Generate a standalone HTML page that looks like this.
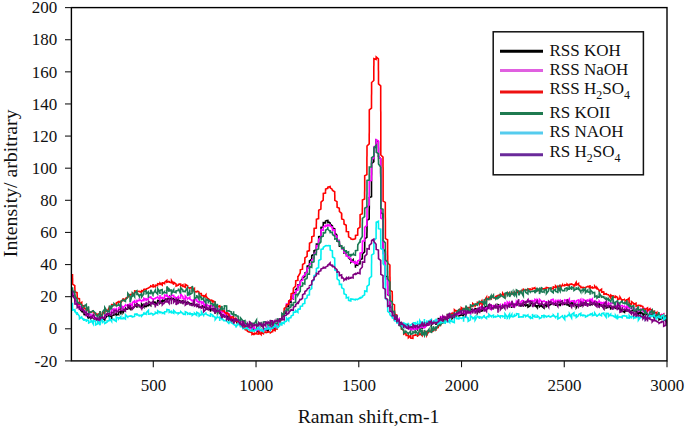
<!DOCTYPE html>
<html><head><meta charset="utf-8"><style>
html,body{margin:0;padding:0;background:#fff;width:685px;height:427px;overflow:hidden}
svg{display:block}
</style></head><body>
<svg width="685" height="427" viewBox="0 0 685 427">
<rect width="685" height="427" fill="#fff"/>
<defs><clipPath id="pc"><rect x="71.1" y="7.6" width="595.9" height="353.29999999999995"/></clipPath></defs>
<g clip-path="url(#pc)"><path d="M72.5 290.0L72.5 292.9L72.5 293.0L72.6 293.4L72.6 296.1L74.8 295.7L74.8 298.2L74.8 297.4L74.9 299.5L74.9 299.6L74.9 300.8L77.1 301.8L77.1 302.0L77.2 304.6L77.2 303.6L79.4 304.5L79.4 307.4L79.4 308.0L79.5 308.4L79.5 308.6L81.7 311.3L81.7 308.2L81.8 309.3L81.8 309.7L84.0 312.8L84.0 312.9L84.1 314.5L86.3 315.0L86.3 314.0L86.3 313.7L86.4 314.3L88.6 318.6L88.6 317.5L88.7 317.7L88.7 317.2L90.9 317.8L91.0 318.1L91.0 318.3L93.2 315.9L93.3 318.9L93.3 318.6L95.5 319.5L95.6 319.5L97.8 320.4L97.8 319.4L97.9 320.5L100.1 316.1L100.2 318.0L100.2 321.7L102.4 317.9L102.5 318.8L104.7 319.7L104.7 317.4L104.8 319.1L107.0 316.1L107.0 315.2L107.0 315.7L107.1 314.9L109.3 316.7L109.4 316.0L111.6 316.6L111.6 314.7L111.7 319.1L111.7 315.5L113.9 315.3L114.0 315.7L114.0 314.6L116.2 313.9L116.3 314.5L116.3 315.1L118.5 314.3L118.6 314.4L118.6 312.2L120.8 311.5L120.9 314.5L120.9 311.4L123.1 312.0L123.2 312.0L123.2 312.4L125.4 308.6L125.5 309.3L127.7 309.0L127.7 309.0L127.8 306.1L130.0 308.8L130.0 305.0L130.1 308.8L132.3 308.8L132.3 308.8L132.4 306.3L132.4 308.9L134.6 306.3L134.7 305.7L134.7 305.9L136.9 305.9L136.9 307.1L137.0 307.7L137.0 303.9L139.2 305.7L139.3 307.4L139.3 306.4L141.5 306.6L141.6 303.9L143.8 306.8L143.8 303.5L143.9 305.5L146.1 306.9L146.2 307.3L146.2 305.5L148.4 305.7L148.5 303.7L148.5 303.7L150.7 305.6L150.7 304.0L150.8 303.6L153.0 301.8L153.0 303.6L153.1 304.0L153.1 302.0L155.3 302.2L155.4 304.6L157.6 302.6L157.6 301.8L157.7 300.5L159.9 300.9L159.9 301.2L160.0 303.1L162.2 300.4L162.2 303.3L162.3 299.7L162.3 300.2L164.5 301.5L164.5 299.8L164.6 298.8L166.8 299.4L166.9 299.9L169.1 297.0L169.1 298.7L169.2 298.9L171.4 298.5L171.5 300.0L171.5 298.4L173.7 298.8L173.8 299.4L173.8 300.4L176.0 299.3L176.1 301.7L176.1 298.8L178.3 301.8L178.4 299.2L178.4 300.2L180.6 301.2L180.7 303.5L180.7 302.1L182.9 300.7L183.0 303.0L185.2 301.3L185.2 300.7L185.3 302.5L185.3 302.2L187.5 303.6L187.6 301.9L189.8 303.4L189.8 303.9L189.9 303.8L192.1 303.6L192.1 303.0L192.2 305.2L194.4 304.5L194.4 305.2L194.5 304.4L196.7 305.2L196.8 304.1L196.8 305.7L199.0 306.8L199.0 306.2L199.1 307.4L201.3 306.9L201.3 308.4L201.4 306.8L203.6 305.2L203.6 308.1L203.7 307.6L205.9 306.7L205.9 309.1L206.0 308.7L206.0 309.1L208.2 308.5L208.3 309.3L210.5 309.7L210.5 311.8L210.6 309.0L212.8 310.1L212.9 310.7L212.9 308.4L215.1 308.7L215.1 313.7L215.2 309.0L217.4 312.2L217.4 310.6L217.5 310.9L217.5 309.8L219.7 311.4L219.8 313.9L219.8 311.6L222.0 314.5L222.1 314.6L222.1 317.1L224.3 314.4L224.4 317.0L224.4 316.8L226.6 315.6L226.6 314.5L226.7 318.7L228.9 315.7L228.9 317.2L229.0 319.2L229.0 319.8L231.2 317.7L231.3 319.1L231.3 319.3L233.5 321.3L233.5 323.4L233.6 318.5L233.6 322.2L235.8 317.9L235.9 321.8L235.9 320.7L238.1 324.8L238.1 322.8L238.1 321.9L238.2 322.5L238.2 322.7L240.4 324.0L240.5 324.0L242.7 325.5L242.8 327.0L242.8 326.4L245.0 324.4L245.1 324.3L245.1 325.6L247.3 328.0L247.3 326.6L247.4 326.3L247.4 327.6L249.6 325.9L249.6 326.5L249.7 328.7L249.7 327.9L251.9 328.0L252.0 329.2L254.2 328.4L254.2 328.4L254.3 328.9L254.3 330.4L256.5 329.9L256.6 328.4L256.6 329.6L256.6 330.8L258.8 332.4L258.9 328.5L258.9 330.4L261.1 329.6L261.2 330.9L261.2 330.4L263.4 331.7L263.5 330.4L263.5 329.0L265.7 328.9L265.8 330.0L268.0 329.8L268.0 332.3L268.1 331.2L268.1 327.4L270.3 329.0L270.4 326.7L270.4 326.1L272.6 328.7L272.7 328.1L272.7 325.9L274.9 329.0L274.9 325.4L275.0 324.9L275.0 326.6L277.2 325.6L277.2 324.8L277.3 324.2L279.5 323.8L279.5 322.5L279.6 321.6L281.8 318.8L281.8 318.8L281.8 320.3L281.8 318.3L281.9 318.3L281.9 317.8L284.1 314.8L284.1 314.6L284.2 315.2L284.2 313.2L284.2 313.7L286.4 312.6L286.4 310.8L286.5 308.9L286.5 307.2L286.5 306.0L288.7 306.6L288.7 305.3L288.8 303.7L288.8 303.5L288.8 301.4L291.0 302.3L291.0 300.2L291.1 299.1L291.1 298.4L291.1 297.5L293.3 298.9L293.3 293.6L293.4 294.5L293.4 295.1L293.4 293.9L295.6 292.2L295.6 293.7L295.7 289.5L295.7 288.7L295.7 289.9L297.9 287.2L297.9 285.2L297.9 288.1L298.0 287.4L298.0 286.8L298.0 284.8L300.2 284.5L300.2 282.2L300.3 283.6L300.3 282.3L300.3 281.2L302.5 278.6L302.5 279.6L302.6 278.9L302.6 277.6L304.8 276.7L304.8 275.2L304.9 274.3L304.9 274.1L304.9 273.0L307.1 271.9L307.1 270.6L307.1 270.5L307.2 268.1L307.2 267.4L307.2 266.2L309.4 265.5L309.4 264.6L309.5 263.5L309.5 262.4L309.5 260.2L309.5 261.1L311.7 259.0L311.7 257.7L311.7 257.1L311.8 255.6L311.8 255.5L314.0 254.2L314.0 252.7L314.1 250.1L314.1 250.5L316.3 250.1L316.3 249.1L316.3 247.7L316.4 246.8L316.4 246.1L316.4 244.0L318.6 244.1L318.6 241.3L318.6 240.4L318.7 239.5L318.7 237.8L318.7 236.7L320.9 236.2L320.9 234.5L320.9 232.7L320.9 231.7L321.0 229.4L321.0 227.5L323.2 227.1L323.2 225.9L323.2 225.5L323.3 223.3L323.3 224.1L323.3 222.7L325.5 222.8L325.5 220.6L325.6 220.8L327.8 220.4L327.8 221.0L327.9 219.9L327.9 222.5L330.1 222.3L330.1 222.2L330.2 223.9L330.2 224.2L332.4 226.0L332.5 227.7L332.5 227.5L332.5 228.0L334.7 228.8L334.7 230.3L334.7 231.3L334.8 231.8L334.8 232.9L337.0 235.2L337.0 236.9L337.0 235.6L337.0 238.0L337.1 238.3L337.1 239.7L337.1 241.2L339.3 241.9L339.3 242.5L339.4 242.8L339.4 243.5L339.4 246.2L341.6 246.1L341.6 246.9L341.7 247.7L341.7 247.9L343.9 249.5L343.9 250.9L344.0 251.5L344.0 250.4L344.0 252.9L346.2 252.3L346.2 252.3L346.3 253.7L346.3 254.7L348.5 256.1L348.5 256.5L348.6 256.7L348.6 258.0L350.8 259.9L350.8 258.7L350.8 260.0L350.9 260.2L350.9 262.2L353.1 259.7L353.2 262.2L353.2 261.4L355.4 263.4L355.4 265.0L355.5 267.7L355.5 265.5L357.7 264.3L357.7 266.1L357.8 264.0L360.0 263.8L360.0 263.1L360.0 262.2L360.1 260.7L360.1 260.3L360.1 259.7L362.3 258.7L362.3 257.0L362.4 255.8L362.4 254.0L362.4 253.8L364.6 251.9L364.6 250.1L364.6 248.2L364.7 246.7L364.7 244.3L364.7 242.5L364.7 240.5L364.7 238.9L366.9 237.3L366.9 235.0L366.9 233.8L367.0 231.0L367.0 230.4L367.0 228.0L367.0 226.9L367.0 224.5L367.0 222.8L367.0 220.9L367.0 220.3L369.2 219.0L369.2 216.9L369.2 215.5L369.2 214.4L369.2 213.0L369.2 212.3L369.2 211.2L369.3 207.9L369.3 206.2L369.3 204.9L369.3 202.7L369.3 199.3L369.3 197.6L371.5 196.8L371.5 194.1L371.5 191.7L371.5 189.9L371.5 188.8L371.5 187.1L371.5 184.9L371.5 184.0L371.5 182.2L371.5 180.9L371.5 178.2L371.5 177.3L371.5 176.1L371.6 174.3L371.6 172.9L371.6 171.3L371.6 169.1L371.6 167.3L371.6 165.6L371.6 163.7L373.8 161.7L373.8 160.7L373.8 158.9L373.8 157.1L373.9 155.0L373.9 154.9L373.9 153.0L373.9 151.3L373.9 149.9L373.9 148.2L376.1 147.1L376.1 145.7L376.1 143.6L376.1 142.2L376.2 140.6L376.2 139.1L376.2 140.4L378.4 141.8L378.4 143.8L378.4 146.5L378.5 148.8L378.5 150.1L378.5 151.7L378.5 154.4L378.5 156.6L380.7 158.9L380.7 161.2L380.7 163.5L380.7 165.1L380.7 166.8L380.7 168.9L380.7 170.6L380.7 172.2L380.8 174.6L380.8 177.1L380.8 178.3L380.8 181.0L380.8 182.8L380.8 185.0L380.8 187.0L380.8 188.6L380.8 189.9L380.8 191.3L380.8 192.7L380.8 193.8L380.8 195.2L380.8 197.6L380.8 199.5L380.8 200.9L380.8 202.8L380.8 204.9L380.8 206.8L380.8 208.1L380.8 210.0L380.8 212.6L383.0 214.0L383.0 215.8L383.0 218.7L383.0 220.0L383.0 221.6L383.0 223.7L383.0 225.5L383.0 227.7L383.0 229.1L383.1 231.0L383.1 233.8L383.1 235.9L383.1 238.5L383.1 240.6L383.1 243.0L383.1 245.2L383.1 247.6L383.1 249.0L385.3 251.4L385.3 252.7L385.3 255.0L385.3 256.2L385.3 258.5L385.3 260.0L385.3 261.1L385.3 263.3L385.4 264.8L385.4 265.8L385.4 267.6L385.4 268.8L385.4 270.3L385.4 272.3L385.4 274.0L385.4 276.2L387.6 276.9L387.6 277.5L387.6 279.7L387.6 280.9L387.6 282.9L387.6 285.2L387.7 286.4L387.7 289.5L387.7 292.1L387.7 293.2L387.7 294.7L389.9 296.2L389.9 296.4L389.9 297.9L389.9 299.8L389.9 301.6L390.0 302.7L390.0 303.5L390.0 305.4L390.0 306.4L390.0 307.2L392.2 307.4L392.2 308.9L392.3 311.1L392.3 310.6L392.3 312.1L394.5 313.0L394.5 314.0L394.5 314.5L394.6 314.8L394.6 319.6L396.8 318.7L396.8 317.5L396.9 319.0L396.9 320.7L399.1 320.6L399.1 322.4L399.2 321.6L399.2 322.7L401.4 323.6L401.4 323.6L401.5 321.9L401.5 325.4L403.7 326.2L403.8 326.8L403.8 325.2L406.0 327.0L406.0 327.0L406.1 324.7L408.3 324.4L408.3 327.9L408.4 326.3L410.6 328.9L410.7 330.4L410.7 327.1L412.9 327.0L413.0 328.0L415.2 328.9L415.3 326.5L417.5 329.5L417.5 329.1L417.6 328.6L419.8 326.8L419.8 328.5L419.9 328.2L422.1 325.4L422.1 329.3L422.2 326.1L422.2 326.7L424.4 325.3L424.5 326.2L424.5 326.9L426.7 324.2L426.8 322.8L429.0 324.0L429.1 322.6L429.1 323.1L431.3 323.6L431.4 323.4L431.4 324.9L433.6 321.7L433.7 323.0L435.9 321.6L435.9 323.7L436.0 325.0L436.0 321.9L438.2 323.3L438.3 320.2L438.3 318.7L440.5 318.8L440.6 318.2L440.6 318.7L442.8 319.4L442.9 320.7L445.1 319.8L445.1 319.4L445.2 318.0L447.4 317.4L447.4 318.1L447.4 318.1L447.5 318.1L449.7 317.9L449.7 317.1L449.8 314.7L452.0 315.4L452.0 315.6L452.1 318.5L454.3 315.6L454.3 316.8L454.4 317.6L454.4 316.0L456.6 315.0L456.6 314.8L456.7 313.6L458.9 315.1L459.0 315.9L461.2 314.9L461.2 315.0L461.3 314.7L463.5 316.1L463.5 312.6L463.6 313.5L465.8 313.9L465.8 314.4L465.9 309.6L468.1 311.8L468.2 311.9L468.2 310.7L470.4 313.0L470.4 312.0L470.5 311.1L470.5 309.4L472.7 309.6L472.8 309.9L472.8 311.5L475.0 309.3L475.1 308.0L475.1 308.6L477.3 309.5L477.4 312.2L477.4 313.0L479.6 309.1L479.7 310.7L481.9 311.0L482.0 310.6L484.2 308.6L484.2 307.0L484.3 307.8L486.5 305.9L486.5 308.4L486.6 308.9L488.8 305.4L488.8 307.6L488.9 307.8L491.1 308.9L491.2 308.9L491.2 308.1L493.4 306.0L493.5 306.4L493.5 308.3L495.7 305.9L495.8 306.5L498.0 308.5L498.1 306.5L498.1 304.6L500.3 305.9L500.4 307.0L502.6 305.9L502.6 307.6L502.7 307.7L504.9 305.1L505.0 305.2L505.0 305.7L507.2 304.2L507.3 306.2L507.3 305.4L509.5 306.7L509.6 304.8L511.8 304.4L511.8 307.9L511.9 304.3L514.1 304.6L514.2 304.4L514.2 304.9L516.4 304.1L516.5 305.2L518.7 304.3L518.7 304.7L518.8 305.6L521.0 306.0L521.1 305.7L521.1 304.1L523.3 305.6L523.4 304.9L525.6 304.9L525.7 302.8L525.7 305.8L527.9 304.8L528.0 307.1L530.2 305.7L530.3 303.4L532.5 303.1L532.5 306.4L532.6 303.7L534.8 305.7L534.9 304.4L537.1 307.5L537.1 304.9L537.2 306.8L537.2 306.5L539.4 304.2L539.5 304.3L539.5 306.7L541.7 304.8L541.7 303.6L541.8 306.3L544.0 308.1L544.1 304.7L544.1 306.5L546.3 304.5L546.4 306.5L548.6 304.4L548.6 306.4L548.7 305.4L550.9 304.5L551.0 305.0L551.0 304.0L553.2 303.2L553.3 303.3L555.5 304.6L555.6 303.3L555.6 305.2L557.8 305.3L557.9 305.2L557.9 304.0L557.9 304.7L560.1 304.6L560.2 306.3L560.2 303.5L562.4 304.0L562.5 304.2L564.7 304.3L564.8 303.5L567.0 303.6L567.1 305.7L567.1 303.6L569.3 305.6L569.4 307.0L569.4 306.0L571.6 302.0L571.6 305.3L571.7 304.9L571.7 305.0L573.9 302.1L573.9 305.2L574.0 302.8L576.2 305.9L576.2 305.6L576.3 307.5L578.5 303.6L578.5 302.2L578.6 305.5L580.8 305.2L580.9 303.6L580.9 305.9L583.1 305.0L583.2 302.4L585.4 303.6L585.4 303.5L585.5 304.0L587.7 304.4L587.8 303.3L587.8 304.0L590.0 305.1L590.1 304.3L592.3 304.1L592.3 304.1L592.4 304.5L594.6 302.2L594.6 305.0L594.7 303.6L596.9 305.1L597.0 303.2L599.2 306.5L599.3 305.7L599.3 303.8L601.5 305.9L601.6 304.8L603.8 308.2L603.9 306.6L603.9 305.1L606.1 306.5L606.2 306.3L606.2 308.0L608.4 307.0L608.4 307.3L608.5 305.4L610.7 308.0L610.7 309.8L610.8 308.1L613.0 307.4L613.1 307.9L615.3 306.7L615.3 308.3L615.4 306.8L615.4 308.4L617.6 308.0L617.7 307.7L619.9 309.6L619.9 307.1L620.0 309.1L620.0 307.6L622.2 311.8L622.3 312.1L622.3 310.8L624.5 312.3L624.6 310.8L626.8 310.9L626.8 309.8L626.9 309.3L626.9 310.8L629.1 310.2L629.2 310.5L631.4 312.1L631.5 311.2L633.7 309.6L633.8 311.6L636.0 311.1L636.0 311.9L636.1 311.0L638.3 314.1L638.3 315.1L638.4 311.5L640.6 313.9L640.6 314.0L640.7 312.1L642.9 313.7L642.9 315.6L643.0 315.0L643.0 316.1L645.2 312.8L645.3 313.5L647.5 315.0L647.5 315.3L647.6 315.1L649.8 314.8L649.9 315.0L652.1 314.9L652.1 316.4L652.2 312.5L654.4 318.2L654.4 315.8L654.5 314.8L654.5 317.4L656.7 315.2L656.8 317.7L656.8 316.9L659.0 318.3L659.1 318.9L659.1 319.7L661.3 317.6L661.4 318.2L661.4 318.7L663.6 317.1L663.7 320.0L665.9 319.7L665.9 318.1L666.0 321.4L668.2 321.8L668.2 318.4L668.3 320.8" fill="none" stroke="#000000" stroke-width="1.6" stroke-linejoin="miter"/>
<path d="M72.5 291.1L72.5 289.7L72.5 293.6L72.6 292.8L72.6 294.9L72.6 294.2L74.8 294.9L74.8 297.0L74.8 298.0L74.8 300.3L74.9 300.1L74.9 301.5L77.1 302.1L77.1 305.6L77.1 302.3L77.2 305.3L77.2 304.6L79.4 306.0L79.5 305.9L79.5 308.4L81.7 306.1L81.7 306.6L81.7 308.5L81.8 308.2L84.0 311.1L84.0 311.8L84.1 310.6L86.3 312.9L86.3 311.8L86.4 312.8L86.4 313.2L86.4 315.8L88.6 314.2L88.7 313.6L90.9 314.3L90.9 317.3L91.0 314.3L91.0 316.2L93.2 316.7L93.3 314.6L93.3 317.2L95.5 319.3L95.6 318.4L97.8 317.1L97.9 319.2L97.9 319.1L100.1 321.1L100.2 317.5L100.2 318.0L102.4 318.5L102.4 318.1L102.5 318.0L104.7 317.4L104.7 316.1L104.8 314.4L107.0 315.2L107.0 313.5L107.1 313.4L109.3 313.5L109.3 314.4L109.4 314.6L109.4 312.0L111.6 313.3L111.6 313.5L111.7 312.2L111.7 310.0L113.9 308.9L113.9 312.2L114.0 312.0L114.0 310.8L116.2 308.8L116.3 311.5L118.5 310.7L118.5 308.7L118.6 308.0L120.8 305.5L120.8 308.5L120.9 305.1L123.1 307.6L123.1 307.3L123.2 306.2L123.2 307.8L125.4 305.2L125.5 305.9L125.5 305.8L127.7 305.0L127.7 303.9L127.8 305.8L130.0 304.5L130.0 303.6L130.0 303.5L130.1 303.5L132.3 306.0L132.4 303.1L132.4 302.5L134.6 301.3L134.6 300.9L134.7 299.8L134.7 302.4L136.9 302.0L136.9 300.5L137.0 299.7L137.0 301.0L139.2 300.5L139.3 299.3L141.5 301.1L141.6 300.6L141.6 300.3L141.6 301.2L143.8 299.2L143.9 301.5L143.9 298.4L146.1 300.2L146.2 300.2L146.2 298.9L148.4 299.5L148.5 297.3L150.7 296.9L150.8 298.5L150.8 297.6L153.0 299.2L153.1 298.4L153.1 299.1L155.3 298.6L155.4 298.3L155.4 298.1L157.6 297.3L157.7 297.0L159.9 300.1L160.0 295.1L160.0 296.9L162.2 298.3L162.3 297.4L164.5 298.6L164.5 297.5L164.6 295.1L166.8 296.2L166.9 294.8L169.1 297.9L169.1 298.4L169.2 296.0L169.2 297.3L171.4 296.0L171.5 294.7L173.7 296.1L173.7 294.7L173.8 296.0L173.8 297.1L176.0 297.9L176.1 298.7L178.3 296.7L178.4 297.6L178.4 297.9L180.6 298.2L180.7 294.0L182.9 296.8L182.9 298.9L183.0 296.5L183.0 298.4L185.2 299.3L185.3 296.1L187.5 298.5L187.5 299.1L187.6 299.0L189.8 297.2L189.8 299.8L189.9 298.9L192.1 300.9L192.2 300.6L194.4 299.7L194.4 300.7L194.5 299.8L194.5 300.0L196.7 299.1L196.8 301.0L199.0 302.6L199.0 301.9L199.1 302.0L199.1 301.5L201.3 301.9L201.4 303.8L203.6 301.3L203.7 306.1L203.7 303.6L205.9 306.6L205.9 305.5L206.0 303.8L208.2 305.6L208.2 305.2L208.3 305.7L210.5 306.5L210.6 305.2L210.6 305.3L212.8 305.9L212.8 304.9L212.9 306.5L215.1 307.5L215.1 307.7L215.2 308.0L215.2 307.5L217.4 309.3L217.5 306.3L217.5 308.7L219.7 309.1L219.7 311.0L219.8 311.0L219.8 311.6L222.0 311.0L222.0 312.7L222.1 310.9L222.1 312.5L224.3 310.6L224.4 315.6L224.4 315.9L226.6 313.8L226.7 313.8L226.7 312.6L228.9 313.8L229.0 316.3L229.0 316.3L229.0 315.0L231.2 316.5L231.3 316.8L231.3 318.7L233.5 319.5L233.6 318.9L235.8 319.6L235.8 319.9L235.9 317.7L235.9 320.7L238.1 320.7L238.1 321.9L238.2 319.1L238.2 322.5L240.4 321.0L240.4 322.4L240.5 323.9L240.5 321.0L242.7 321.4L242.7 324.6L242.8 322.3L245.0 322.9L245.1 325.2L245.1 324.5L247.3 326.1L247.3 325.8L247.4 325.8L249.6 327.4L249.6 329.1L249.7 326.6L249.7 328.8L251.9 328.7L251.9 327.7L252.0 328.5L254.2 327.1L254.2 327.7L254.3 329.0L254.3 328.8L256.5 330.7L256.5 327.5L256.6 328.9L258.8 328.6L258.8 329.3L258.9 331.1L258.9 328.2L261.1 330.9L261.2 329.0L261.2 329.4L263.4 331.1L263.5 329.3L263.5 330.5L265.7 329.7L265.7 329.2L265.8 328.8L268.0 326.8L268.1 327.9L270.3 328.7L270.3 328.7L270.4 326.3L270.4 329.3L272.6 328.5L272.6 326.0L272.7 325.9L274.9 327.6L275.0 324.3L275.0 325.3L277.2 325.7L277.2 325.1L277.3 324.5L277.3 324.4L279.5 322.4L279.5 322.2L279.5 324.4L279.6 319.6L279.6 320.1L281.8 319.9L281.8 318.4L281.8 319.8L281.9 317.9L281.9 317.4L284.1 312.8L284.1 315.7L284.1 314.6L284.2 311.5L284.2 312.3L286.4 309.8L286.4 309.0L286.4 309.0L286.5 306.1L286.5 304.0L288.7 304.4L288.7 302.2L288.8 301.7L288.8 300.9L291.0 300.1L291.0 301.3L291.1 299.8L291.1 296.9L293.3 298.4L293.3 294.3L293.4 294.2L293.4 293.6L295.6 294.2L295.6 292.9L295.6 291.9L295.7 292.2L295.7 290.7L297.9 290.2L297.9 286.9L298.0 284.9L298.0 285.1L300.2 285.4L300.2 284.1L300.2 283.3L300.3 282.4L300.3 281.1L302.5 280.5L302.5 279.0L302.6 279.1L302.6 277.2L302.6 276.6L304.8 275.0L304.8 275.0L304.9 273.2L304.9 274.0L307.1 271.4L307.1 271.7L307.1 270.4L307.2 269.4L307.2 269.8L307.2 268.0L309.4 268.1L309.4 266.0L309.4 265.5L309.5 263.6L309.5 264.0L311.7 263.3L311.7 262.1L311.8 260.7L311.8 259.3L311.8 260.2L314.0 258.0L314.0 255.8L314.0 255.3L314.1 252.8L314.1 253.8L316.3 252.7L316.3 251.1L316.4 248.8L316.4 247.0L316.4 245.6L318.6 245.8L318.6 243.6L318.6 242.9L318.6 241.8L318.7 240.4L318.7 239.2L320.9 237.9L320.9 235.9L320.9 234.7L321.0 232.4L321.0 230.9L321.0 229.8L323.2 230.4L323.2 229.3L323.2 229.2L323.3 227.8L323.3 226.7L325.5 225.7L325.5 225.7L325.5 224.6L325.6 226.4L327.8 224.7L327.9 224.1L327.9 225.9L330.1 225.0L330.2 226.1L330.2 226.2L332.4 227.1L332.4 227.6L332.5 228.7L332.5 230.3L334.7 229.8L334.7 230.5L334.8 233.2L334.8 233.6L334.8 235.6L337.0 236.1L337.0 237.9L337.0 238.7L337.1 238.0L337.1 240.3L337.1 240.2L339.3 240.3L339.3 242.1L339.4 243.8L339.4 243.6L339.4 244.6L341.6 246.8L341.6 246.8L341.6 247.9L341.7 247.7L341.7 248.7L343.9 249.8L343.9 250.9L344.0 251.7L344.0 253.1L344.0 252.7L346.2 252.6L346.2 253.6L346.3 254.7L346.3 256.0L348.5 255.6L348.5 256.5L348.6 257.7L348.6 257.7L350.8 258.4L350.8 259.6L350.9 261.3L353.1 261.7L353.1 261.8L353.2 262.6L353.2 261.9L355.4 263.6L355.4 263.4L355.5 263.0L355.5 261.6L357.7 263.8L357.8 260.0L357.8 260.9L360.0 259.7L360.0 259.0L360.0 257.1L360.1 256.8L360.1 255.0L360.1 253.2L362.3 252.6L362.3 251.1L362.3 249.5L362.3 248.1L362.4 245.8L362.4 245.9L362.4 243.3L362.4 241.0L364.6 240.9L364.6 239.8L364.6 237.8L364.6 235.6L364.6 235.9L364.7 233.5L364.7 231.4L364.7 230.7L364.7 228.5L364.7 227.3L366.9 225.3L366.9 225.2L366.9 222.0L366.9 220.5L366.9 218.6L367.0 217.1L367.0 215.7L367.0 213.4L367.0 211.3L367.0 209.5L367.0 207.2L369.2 205.0L369.2 203.4L369.2 201.5L369.2 199.4L369.2 198.0L369.2 196.5L369.2 194.9L369.2 193.3L369.3 191.5L369.3 189.1L369.3 187.7L369.3 186.3L369.3 184.8L369.3 182.8L369.3 181.3L371.5 180.4L371.5 178.0L371.5 175.5L371.5 174.2L371.5 172.2L371.5 171.2L371.5 169.8L371.6 166.8L371.6 165.6L371.6 164.4L371.6 163.0L371.6 161.9L371.6 160.6L373.8 157.8L373.8 156.9L373.8 155.9L373.8 154.8L373.8 153.1L373.8 151.9L373.9 150.7L373.9 149.1L373.9 148.1L373.9 146.7L376.1 146.2L376.1 144.0L376.1 143.1L376.2 142.3L376.2 140.3L376.2 139.7L378.4 140.9L378.4 142.3L378.4 144.8L378.5 147.6L378.5 149.6L378.5 151.3L378.5 153.7L378.5 154.9L378.5 156.4L380.7 158.9L380.7 161.1L380.7 162.9L380.7 165.6L380.7 167.1L380.7 169.8L380.7 172.5L380.7 173.7L380.7 176.1L380.8 178.1L380.8 179.6L380.8 182.2L380.8 185.1L380.8 186.5L380.8 188.3L380.8 189.5L380.8 192.4L380.8 193.9L380.8 196.6L380.8 198.7L380.8 199.9L380.8 201.3L380.8 203.2L380.8 205.7L380.8 207.4L380.8 208.9L380.8 211.3L380.8 213.0L380.8 214.1L380.8 216.3L380.8 218.1L383.0 219.4L383.0 220.8L383.0 221.9L383.0 223.5L383.0 225.9L383.0 228.5L383.1 231.1L383.1 233.2L383.1 236.1L383.1 237.9L383.1 239.9L383.1 241.8L383.1 243.3L383.1 245.8L383.1 247.4L383.1 247.9L383.1 251.0L383.1 253.5L385.3 254.4L385.3 256.5L385.3 257.8L385.3 259.1L385.3 261.8L385.3 263.3L385.3 265.5L385.3 267.0L385.4 269.2L385.4 271.2L385.4 271.7L385.4 273.1L385.4 275.1L385.4 276.8L385.4 277.6L387.6 279.7L387.6 281.8L387.6 283.5L387.6 285.7L387.6 285.7L387.7 288.1L387.7 290.5L387.7 292.2L387.7 293.7L389.9 296.3L389.9 298.3L389.9 300.5L389.9 300.9L389.9 302.1L390.0 302.8L390.0 304.6L390.0 307.0L392.2 306.9L392.2 308.4L392.2 308.8L392.3 311.7L392.3 312.1L394.5 313.4L394.5 313.4L394.6 314.7L394.6 318.6L396.8 317.0L396.8 317.9L396.9 319.7L396.9 320.6L399.1 318.7L399.1 320.6L399.2 322.6L399.2 323.1L401.4 324.2L401.4 323.9L401.5 324.7L401.5 325.8L403.7 325.0L403.7 325.1L403.8 325.9L406.0 326.9L406.0 326.9L406.1 326.7L408.3 327.3L408.3 327.7L408.4 328.5L410.6 328.8L410.7 326.9L410.7 329.9L412.9 326.7L413.0 329.6L415.2 328.1L415.2 329.8L415.3 330.3L417.5 326.4L417.5 329.5L417.6 328.9L417.6 327.8L419.8 328.6L419.9 327.2L419.9 327.8L422.1 326.1L422.1 328.1L422.2 327.5L424.4 327.4L424.4 325.3L424.5 328.1L424.5 327.9L426.7 325.1L426.7 324.5L426.8 324.2L429.0 325.3L429.0 325.5L429.1 323.0L431.3 320.9L431.3 323.8L431.4 322.9L433.6 322.8L433.6 323.0L433.7 320.7L433.7 321.9L435.9 321.0L436.0 321.7L436.0 322.4L438.2 320.6L438.2 319.2L438.3 321.6L440.5 320.5L440.6 318.9L440.6 316.7L442.8 317.6L442.8 318.6L442.9 319.0L442.9 317.4L445.1 318.3L445.2 316.6L445.2 316.6L447.4 317.6L447.5 316.3L447.5 316.7L449.7 317.4L449.7 317.6L449.8 315.1L449.8 315.4L452.0 313.8L452.1 313.6L454.3 315.4L454.3 314.2L454.4 312.3L454.4 315.2L456.6 313.3L456.6 313.8L456.7 314.6L456.7 314.4L458.9 313.6L459.0 310.9L459.0 314.1L461.2 312.4L461.3 311.1L463.5 309.9L463.5 314.2L463.6 312.6L463.6 312.4L465.8 312.9L465.8 311.9L465.9 309.9L468.1 312.4L468.2 312.7L470.4 311.9L470.4 313.0L470.5 313.3L472.7 309.7L472.8 310.0L472.8 311.5L475.0 310.5L475.1 310.3L477.3 311.1L477.3 310.7L477.4 309.1L477.4 309.7L479.6 308.5L479.7 309.0L479.7 307.7L481.9 306.4L482.0 308.2L482.0 308.0L484.2 309.7L484.3 310.5L484.3 308.4L486.5 308.9L486.5 307.4L486.6 306.9L486.6 307.6L488.8 307.4L488.9 308.1L488.9 307.7L491.1 309.6L491.2 307.0L491.2 305.1L493.4 307.2L493.5 306.1L495.7 307.0L495.8 308.0L495.8 305.7L498.0 306.3L498.1 306.9L500.3 304.9L500.3 306.3L500.4 306.6L500.4 306.9L502.6 307.1L502.6 306.3L502.7 306.0L504.9 303.6L505.0 301.9L505.0 304.0L507.2 307.0L507.2 305.2L507.3 302.0L509.5 304.3L509.5 305.2L509.6 302.3L511.8 305.3L511.8 303.0L511.9 305.6L514.1 304.2L514.2 307.9L516.4 302.1L516.5 304.0L516.5 301.6L518.7 304.7L518.8 303.2L518.8 304.1L521.0 302.9L521.1 301.0L521.1 301.2L523.3 300.2L523.4 300.0L523.4 301.2L525.6 302.4L525.7 302.1L527.9 301.7L527.9 300.3L528.0 301.7L528.0 299.9L530.2 301.3L530.3 302.1L530.3 300.8L532.5 300.5L532.6 300.5L534.8 301.9L534.9 300.7L534.9 299.3L537.1 300.6L537.2 299.8L539.4 303.1L539.4 301.2L539.5 299.3L541.7 301.6L541.7 302.2L541.8 301.8L544.0 300.9L544.1 301.5L546.3 301.7L546.4 302.7L548.6 301.9L548.6 304.4L548.7 301.2L548.7 303.4L550.9 301.5L551.0 299.3L551.0 300.0L553.2 299.2L553.3 299.3L553.3 303.1L555.5 300.7L555.6 302.4L557.8 300.4L557.9 301.6L560.1 300.2L560.1 302.7L560.2 301.3L562.4 301.0L562.4 301.4L562.5 304.4L564.7 302.1L564.8 302.6L564.8 299.9L567.0 300.6L567.1 301.8L569.3 299.0L569.3 303.1L569.4 301.7L571.6 301.3L571.6 301.0L571.7 301.0L573.9 300.6L574.0 303.0L576.2 302.0L576.2 302.7L576.3 300.7L578.5 299.9L578.6 302.8L580.8 299.5L580.9 300.2L580.9 301.9L583.1 302.4L583.2 299.3L585.4 300.6L585.4 301.1L585.5 300.9L587.7 300.0L587.8 302.0L587.8 300.5L590.0 300.9L590.1 298.4L590.1 301.2L592.3 298.9L592.4 302.4L592.4 302.1L594.6 300.9L594.7 301.9L596.9 301.9L596.9 301.6L597.0 302.4L599.2 301.9L599.3 301.5L599.3 301.2L601.5 304.4L601.5 302.6L601.6 302.5L603.8 303.5L603.9 302.3L606.1 302.4L606.1 303.9L606.2 304.4L608.4 304.1L608.4 301.5L608.5 303.6L610.7 303.7L610.8 304.5L610.8 303.0L613.0 303.0L613.1 304.3L613.1 303.6L615.3 303.6L615.4 305.0L615.4 306.4L617.6 305.6L617.7 307.1L617.7 304.6L619.9 307.0L620.0 306.3L622.2 305.5L622.3 306.3L622.3 305.9L624.5 306.9L624.6 306.4L626.8 309.1L626.9 307.2L626.9 306.1L629.1 307.8L629.2 308.7L631.4 308.0L631.5 309.6L631.5 307.6L633.7 307.8L633.8 311.1L636.0 309.2L636.0 310.0L636.1 310.0L636.1 310.3L638.3 309.7L638.4 309.5L638.4 311.3L640.6 309.4L640.6 310.3L640.7 311.1L640.7 309.9L642.9 308.7L643.0 311.4L645.2 312.3L645.3 311.6L645.3 309.3L647.5 312.4L647.5 314.2L647.6 310.1L649.8 308.8L649.9 312.1L649.9 312.7L652.1 313.8L652.2 314.1L652.2 313.5L654.4 314.2L654.4 314.1L654.5 314.0L656.7 314.1L656.7 314.2L656.8 315.6L659.0 315.5L659.1 314.7L659.1 316.8L661.3 314.8L661.3 315.7L661.4 316.4L663.6 314.2L663.6 316.3L663.7 318.0L663.7 318.1L665.9 316.0L665.9 316.6L666.0 316.5L668.2 317.7L668.3 317.9" fill="none" stroke="#ff00ff" stroke-width="1.6" stroke-linejoin="miter"/>
<path d="M72.5 274.1L72.5 276.1L72.5 276.1L72.5 277.7L72.5 280.2L72.6 280.1L72.6 282.2L72.6 284.0L72.6 284.2L74.8 285.7L74.8 287.2L74.8 288.1L74.8 287.5L74.9 288.7L74.9 292.0L77.1 292.6L77.1 292.1L77.1 293.6L77.2 295.9L77.2 296.3L77.2 298.4L79.4 298.7L79.4 300.3L79.5 299.6L79.5 301.9L79.5 304.2L81.7 302.4L81.7 305.2L81.8 305.7L81.8 305.8L84.0 305.9L84.0 305.4L84.1 306.0L84.1 308.3L86.3 309.3L86.4 309.9L86.4 310.3L88.6 310.6L88.6 309.9L88.7 309.6L88.7 311.4L90.9 312.2L91.0 312.2L93.2 311.0L93.2 312.5L93.3 311.9L95.5 313.9L95.5 312.9L95.6 313.8L97.8 314.3L97.9 314.0L97.9 315.2L100.1 312.5L100.2 311.1L100.2 314.3L102.4 314.6L102.5 314.4L102.5 312.9L104.7 312.9L104.7 312.0L104.8 310.3L104.8 310.7L107.0 311.3L107.1 309.7L107.1 311.7L109.3 307.5L109.4 308.1L109.4 308.9L111.6 306.8L111.6 305.4L111.7 304.6L113.9 304.7L113.9 306.3L114.0 304.7L116.2 304.3L116.2 302.9L116.3 304.0L116.3 303.0L118.5 301.6L118.5 301.8L118.6 302.0L118.6 302.7L120.8 301.2L120.8 301.4L120.9 302.5L123.1 299.1L123.2 298.2L123.2 300.2L125.4 299.2L125.5 298.2L125.5 298.3L127.7 297.2L127.7 297.7L127.8 296.4L127.8 297.1L130.0 294.6L130.1 294.6L130.1 295.1L132.3 294.2L132.3 295.0L132.4 294.0L132.4 293.1L134.6 293.5L134.7 292.3L134.7 291.0L136.9 291.2L136.9 291.2L137.0 291.3L139.2 291.5L139.2 292.1L139.3 291.4L141.5 292.3L141.5 291.5L141.6 289.7L141.6 291.4L143.8 290.6L143.8 288.7L143.9 289.2L146.1 289.7L146.2 288.5L146.2 289.0L148.4 288.0L148.5 288.0L150.7 286.6L150.8 287.0L150.8 285.9L153.0 286.8L153.1 284.1L153.1 286.0L155.3 286.8L155.3 285.9L155.4 285.1L157.6 285.5L157.6 283.8L157.7 283.7L159.9 284.1L159.9 284.2L160.0 285.2L160.0 283.1L162.2 285.0L162.3 282.1L162.3 282.8L164.5 283.4L164.6 284.5L164.6 282.4L166.8 280.5L166.9 283.1L166.9 282.4L169.1 281.2L169.1 281.1L169.2 281.4L169.2 282.2L171.4 282.8L171.5 280.6L173.7 284.7L173.7 282.4L173.8 282.4L176.0 283.8L176.1 283.4L176.1 286.0L178.3 285.1L178.4 283.7L178.4 284.0L180.6 284.1L180.6 284.6L180.7 286.0L182.9 284.8L182.9 287.3L183.0 285.7L183.0 285.8L185.2 287.3L185.3 284.4L187.5 285.8L187.5 287.6L187.6 287.2L187.6 287.5L189.8 288.1L189.9 287.3L189.9 288.1L192.1 287.2L192.2 287.0L192.2 290.6L194.4 288.6L194.4 289.1L194.5 291.8L196.7 291.9L196.8 290.8L196.8 291.0L199.0 291.8L199.0 291.5L199.1 293.5L201.3 293.6L201.3 294.0L201.4 295.3L203.6 295.7L203.6 297.3L203.7 297.5L205.9 294.7L205.9 297.7L206.0 296.1L206.0 296.3L208.2 299.0L208.3 298.0L208.3 298.7L210.5 300.6L210.5 299.4L210.6 299.7L212.8 301.4L212.8 302.7L212.9 302.5L212.9 300.9L215.1 302.1L215.2 303.3L215.2 306.0L217.4 305.7L217.5 306.0L217.5 306.7L219.7 305.9L219.7 307.1L219.8 307.6L219.8 306.6L222.0 308.2L222.0 309.2L222.1 308.1L222.1 310.6L224.3 311.2L224.3 311.8L224.4 310.6L224.4 312.0L226.6 313.9L226.7 313.8L226.7 312.6L228.9 314.3L228.9 315.9L229.0 314.9L229.0 315.8L231.2 318.5L231.3 316.6L231.3 317.2L233.5 316.6L233.5 317.5L233.6 320.4L233.6 319.1L235.8 318.5L235.9 319.4L235.9 321.0L238.1 322.2L238.1 321.3L238.2 323.4L240.4 322.7L240.4 324.2L240.5 325.1L240.5 325.9L242.7 325.5L242.7 326.3L242.8 327.5L245.0 326.6L245.0 328.5L245.0 329.2L245.1 330.1L245.1 329.7L247.3 330.2L247.4 330.9L247.4 330.3L247.4 331.2L249.6 332.3L249.7 332.5L249.7 331.7L251.9 332.7L252.0 331.2L252.0 334.5L254.2 333.3L254.3 334.3L256.5 332.8L256.6 333.8L258.8 334.3L258.8 334.8L258.9 332.2L261.1 334.5L261.1 333.3L261.2 332.5L263.4 333.7L263.5 332.8L263.5 332.7L265.7 332.1L265.7 333.0L265.8 332.7L268.0 332.2L268.1 331.2L268.1 331.5L270.3 332.3L270.4 332.9L272.6 331.2L272.6 332.5L272.7 330.8L272.7 329.3L274.9 330.6L275.0 328.5L275.0 329.1L277.2 328.9L277.2 326.8L277.3 326.2L277.3 327.9L279.5 325.1L279.5 323.6L279.5 323.4L279.6 321.4L279.6 320.1L281.8 319.6L281.8 316.7L281.8 318.8L281.9 315.9L281.9 314.8L281.9 315.1L284.1 313.2L284.1 311.4L284.1 311.2L284.2 309.4L284.2 308.4L286.4 306.8L286.4 306.2L286.4 306.8L286.5 305.6L286.5 304.8L288.7 304.4L288.7 302.4L288.7 301.2L288.8 300.6L288.8 301.2L291.0 299.2L291.0 298.1L291.0 296.7L291.1 296.1L291.1 295.4L291.1 293.7L293.3 292.9L293.3 291.5L293.3 290.4L293.3 290.5L293.4 289.4L293.4 288.3L295.6 286.1L295.6 284.1L295.6 284.4L295.7 283.5L295.7 281.0L295.7 282.1L295.7 280.8L297.9 280.4L297.9 277.2L298.0 276.2L298.0 276.7L300.2 273.0L300.2 273.3L300.2 272.3L300.3 271.5L300.3 270.0L300.3 269.8L302.5 269.2L302.5 267.6L302.5 267.0L302.6 265.1L302.6 264.5L304.8 263.1L304.8 262.3L304.8 260.2L304.9 259.9L304.9 258.4L304.9 257.9L307.1 256.4L307.1 254.6L307.2 253.7L307.2 253.3L307.2 251.4L309.4 250.6L309.4 249.1L309.4 247.7L309.4 246.5L309.5 246.2L309.5 245.9L309.5 244.1L309.5 243.2L311.7 242.0L311.7 241.1L311.8 239.4L311.8 237.6L311.8 236.8L314.0 235.9L314.0 234.2L314.0 233.8L314.1 231.9L314.1 230.1L314.1 228.5L316.3 228.0L316.3 226.1L316.3 225.9L316.3 224.3L316.4 223.1L316.4 221.3L316.4 219.3L318.6 218.6L318.6 217.2L318.6 216.5L318.6 215.0L318.6 214.8L318.7 212.3L318.7 211.7L318.7 210.3L320.9 209.1L320.9 208.0L320.9 206.9L321.0 205.5L321.0 203.3L321.0 202.2L321.0 202.1L323.2 200.2L323.2 198.7L323.2 198.3L323.3 196.8L323.3 193.9L323.3 193.4L325.5 193.1L325.5 192.0L325.5 190.7L325.6 191.1L325.6 189.3L325.6 189.0L327.8 188.3L327.8 187.6L327.9 187.5L327.9 187.2L330.1 186.5L330.1 187.5L330.1 186.7L330.2 187.8L332.4 189.4L332.4 189.2L332.4 190.3L332.5 190.5L334.7 191.7L334.7 192.7L334.7 194.2L334.8 195.3L334.8 196.9L334.8 198.7L334.8 200.4L337.0 201.6L337.0 203.4L337.0 204.2L337.1 204.3L337.1 204.7L337.1 207.2L339.3 208.3L339.3 208.9L339.4 210.1L339.4 210.2L339.4 211.4L341.6 213.3L341.6 213.4L341.6 215.8L341.7 215.7L341.7 217.0L341.7 219.0L343.9 219.7L343.9 219.5L343.9 221.1L344.0 221.5L344.0 222.9L344.0 224.0L346.2 225.3L346.2 225.8L346.2 227.3L346.2 227.9L346.3 228.0L346.3 229.4L346.3 231.6L348.5 231.7L348.5 233.1L348.5 234.8L348.6 235.2L348.6 236.9L350.8 238.1L350.8 238.8L350.8 239.4L350.9 238.9L353.1 239.4L353.1 239.7L353.2 239.4L355.4 238.7L355.4 238.5L355.5 237.4L355.5 235.5L357.7 235.1L357.7 233.4L357.7 233.0L357.7 231.4L357.8 230.3L357.8 229.7L357.8 228.9L360.0 227.2L360.0 225.5L360.0 223.2L360.0 222.1L360.1 220.5L360.1 219.3L360.1 217.1L360.1 215.7L360.1 214.8L362.3 213.8L362.3 212.8L362.3 211.3L362.3 209.2L362.4 206.8L362.4 205.3L362.4 204.8L362.4 203.5L362.4 200.1L364.6 199.1L364.6 197.8L364.6 195.6L364.6 193.7L364.6 192.4L364.7 190.4L364.7 189.2L364.7 187.5L364.7 185.8L364.7 184.3L364.7 182.4L364.7 180.2L364.7 179.2L364.7 177.4L364.7 175.7L366.9 174.6L366.9 171.7L366.9 170.5L366.9 169.3L366.9 167.7L366.9 166.3L366.9 164.2L366.9 162.7L366.9 161.6L366.9 159.5L366.9 157.6L367.0 155.5L367.0 153.1L367.0 151.5L367.0 150.5L367.0 147.8L367.0 147.4L367.0 146.0L369.2 143.8L369.2 142.3L369.2 140.6L369.2 138.4L369.2 136.4L369.2 134.4L369.3 132.1L369.3 130.4L369.3 127.5L369.3 124.8L369.3 122.6L369.3 120.4L369.3 118.9L369.3 116.7L369.3 115.3L369.3 113.7L369.3 111.3L369.3 109.8L371.5 108.0L371.5 107.4L371.5 105.1L371.5 102.7L371.5 100.8L371.5 98.4L371.5 96.6L371.5 96.1L371.6 93.5L371.6 91.8L371.6 89.7L371.6 88.5L371.6 86.3L371.6 85.5L371.6 82.5L373.8 80.5L373.8 78.4L373.8 76.4L373.8 74.5L373.8 72.9L373.8 72.5L373.8 71.2L373.8 69.3L373.8 68.1L373.8 66.7L373.9 65.2L373.9 65.0L373.9 62.8L373.9 61.0L373.9 58.7L376.1 59.4L376.1 58.1L376.1 58.8L376.2 57.0L378.4 58.9L378.4 61.3L378.4 63.1L378.4 65.8L378.4 67.9L378.4 70.0L378.5 71.1L378.5 73.2L378.5 74.6L378.5 76.3L378.5 77.4L378.5 79.0L378.5 79.8L378.5 81.8L378.5 83.4L378.5 83.8L380.7 85.8L380.7 87.8L380.7 89.4L380.7 91.2L380.7 93.3L380.7 95.2L380.7 96.5L380.7 98.4L380.7 100.7L380.7 102.4L380.7 104.7L380.7 106.6L380.7 108.2L380.7 109.2L380.7 110.3L380.8 112.2L380.8 114.5L380.8 117.1L380.8 118.6L380.8 120.5L380.8 122.1L380.8 124.6L380.8 127.2L380.8 128.9L380.8 131.6L380.8 133.1L380.8 134.3L380.8 136.1L380.8 138.5L380.8 141.2L380.8 143.2L380.8 144.6L380.8 146.8L380.8 147.8L380.8 149.8L380.8 151.0L380.8 152.5L380.8 153.3L380.8 155.0L383.0 157.1L383.0 158.9L383.0 161.0L383.0 162.8L383.0 164.7L383.0 166.2L383.1 168.1L383.1 169.9L383.1 171.6L383.1 173.3L383.1 174.8L383.1 177.5L383.1 178.8L383.1 181.4L383.1 183.4L383.1 185.8L383.1 187.5L383.1 190.0L383.1 191.5L383.1 192.8L383.1 194.8L383.1 196.4L383.1 198.3L383.1 199.4L383.1 201.1L385.3 202.4L385.3 204.6L385.3 206.9L385.3 208.7L385.3 211.3L385.3 213.8L385.3 215.4L385.3 216.8L385.4 219.2L385.4 221.4L385.4 223.8L385.4 226.0L385.4 227.8L385.4 229.8L385.4 231.4L385.4 232.8L385.4 235.4L385.4 237.2L385.4 238.6L387.6 239.7L387.6 241.1L387.6 243.3L387.6 245.3L387.6 247.4L387.6 248.9L387.6 251.0L387.6 252.4L387.6 254.2L387.7 256.2L387.7 256.8L387.7 258.0L387.7 259.2L387.7 261.4L387.7 263.0L389.9 265.0L389.9 265.9L389.9 267.4L389.9 268.7L389.9 270.4L389.9 272.3L389.9 273.8L389.9 275.7L390.0 277.3L390.0 279.5L390.0 281.1L390.0 283.6L390.0 284.9L390.0 287.3L390.0 289.2L390.0 290.3L392.2 291.6L392.2 293.4L392.2 294.2L392.3 294.8L392.3 295.9L392.3 298.2L392.3 299.7L392.3 302.2L392.3 303.6L394.5 304.9L394.5 306.6L394.5 308.4L394.5 309.1L394.5 310.2L394.6 311.8L394.6 311.6L394.6 314.2L396.8 315.0L396.8 317.7L396.8 317.7L396.9 318.0L396.9 319.5L396.9 321.9L399.1 322.9L399.1 322.8L399.2 323.7L399.2 323.2L399.2 324.8L401.4 326.4L401.4 326.7L401.5 330.0L401.5 328.0L403.7 330.7L403.7 331.8L403.7 333.0L403.8 335.1L403.8 332.4L406.0 333.7L406.0 334.8L406.1 335.4L408.3 335.3L408.3 335.3L408.4 337.6L410.6 335.4L410.7 335.9L410.7 338.1L412.9 338.4L412.9 337.4L413.0 335.4L415.2 335.3L415.2 335.2L415.3 334.7L417.5 335.3L417.6 336.9L417.6 335.6L419.8 334.4L419.9 334.2L419.9 333.5L422.1 335.7L422.2 332.0L424.4 334.1L424.4 332.1L424.5 332.2L426.7 331.4L426.7 333.8L426.7 332.4L426.8 335.2L429.0 330.9L429.0 330.6L429.1 332.2L429.1 331.9L431.3 330.6L431.4 328.6L431.4 331.8L433.6 330.7L433.6 330.3L433.7 328.9L435.9 329.8L435.9 328.1L436.0 328.1L438.2 327.4L438.2 328.2L438.3 325.8L440.5 325.3L440.5 326.1L440.6 324.3L440.6 323.5L442.8 322.7L442.8 323.2L442.9 320.9L442.9 321.5L445.1 322.3L445.1 320.3L445.2 318.6L445.2 317.5L447.4 318.2L447.4 316.2L447.5 315.2L447.5 315.7L447.5 314.9L449.7 316.3L449.8 313.5L449.8 316.1L452.0 313.3L452.1 313.8L452.1 313.9L454.3 313.0L454.4 313.3L454.4 311.3L454.4 309.7L456.6 311.6L456.6 309.9L456.7 310.6L458.9 312.0L458.9 310.5L459.0 309.7L461.2 308.9L461.2 309.5L461.3 309.4L461.3 307.7L463.5 309.4L463.6 307.7L463.6 308.9L465.8 308.0L465.8 309.2L465.9 308.7L468.1 307.5L468.1 307.2L468.2 307.4L470.4 308.2L470.4 307.6L470.5 306.4L472.7 306.2L472.8 307.2L472.8 303.6L475.0 305.6L475.0 303.8L475.1 305.9L477.3 303.6L477.3 303.6L477.4 302.4L479.6 303.1L479.6 303.6L479.7 304.2L481.9 300.7L482.0 301.2L482.0 305.3L484.2 302.0L484.2 300.7L484.3 300.9L486.5 297.3L486.5 301.5L486.6 299.7L488.8 297.7L488.8 300.2L488.9 298.1L488.9 297.5L491.1 298.8L491.1 298.5L491.2 297.3L491.2 297.5L493.4 295.9L493.4 295.6L493.5 297.8L495.7 298.1L495.8 296.8L495.8 296.6L498.0 295.5L498.1 295.6L500.3 294.5L500.3 297.2L500.4 294.6L500.4 295.4L502.6 294.9L502.7 293.2L504.9 296.6L504.9 294.0L505.0 293.4L505.0 294.2L507.2 292.9L507.3 293.8L509.5 292.6L509.6 294.0L511.8 293.3L511.8 291.7L511.9 294.1L514.1 293.0L514.1 291.5L514.2 292.9L516.4 292.8L516.5 294.2L516.5 291.1L518.7 292.9L518.7 291.7L518.8 292.4L518.8 291.3L521.0 291.3L521.1 291.7L523.3 289.6L523.3 288.4L523.4 290.4L523.4 289.8L525.6 290.0L525.7 290.4L527.9 289.2L528.0 290.5L528.0 289.1L530.2 289.1L530.3 289.8L532.5 289.4L532.5 288.7L532.6 288.8L534.8 287.8L534.8 287.9L534.9 288.6L537.1 289.3L537.1 287.9L537.2 289.3L537.2 290.4L539.4 290.6L539.4 288.3L539.5 289.3L541.7 288.8L541.8 288.9L544.0 288.9L544.0 288.5L544.1 288.8L546.3 288.1L546.4 287.5L548.6 288.0L548.7 288.2L550.9 288.9L550.9 287.9L551.0 288.2L553.2 288.9L553.2 286.2L553.3 286.9L555.5 287.7L555.6 287.0L555.6 285.8L557.8 287.9L557.9 286.6L560.1 285.5L560.2 288.5L562.4 284.9L562.5 286.1L562.5 285.3L564.7 285.9L564.8 286.3L564.8 284.7L567.0 285.3L567.0 285.1L567.1 284.0L569.3 286.2L569.4 285.0L569.4 284.4L571.6 283.9L571.7 284.3L573.9 284.9L573.9 284.3L574.0 286.2L576.2 282.3L576.3 282.8L576.3 285.0L578.5 283.5L578.5 285.5L578.6 285.1L580.8 286.6L580.9 286.6L580.9 287.7L583.1 287.5L583.2 288.0L583.2 287.3L585.4 288.0L585.5 287.5L587.7 286.5L587.7 285.8L587.8 286.0L590.0 288.0L590.0 285.0L590.1 287.8L592.3 287.0L592.4 288.8L592.4 288.3L594.6 287.5L594.7 288.4L594.7 286.1L596.9 289.0L596.9 289.6L597.0 287.5L599.2 290.6L599.2 289.9L599.3 290.7L601.5 289.3L601.5 291.8L601.6 292.1L603.8 291.9L603.8 291.4L603.9 293.6L603.9 294.3L606.1 293.7L606.1 294.6L606.2 293.2L606.2 294.3L608.4 294.8L608.5 294.8L610.7 298.0L610.7 295.8L610.8 295.1L613.0 296.9L613.1 295.0L613.1 296.9L615.3 297.5L615.3 296.3L615.4 296.6L615.4 296.1L617.6 297.5L617.6 296.8L617.7 299.6L619.9 298.7L619.9 298.1L620.0 297.1L622.2 301.0L622.2 300.3L622.3 299.7L624.5 299.7L624.5 300.0L624.6 299.6L626.8 302.2L626.8 300.6L626.8 299.1L626.9 300.1L629.1 298.3L629.1 301.9L629.2 302.3L629.2 303.6L631.4 304.3L631.5 301.6L633.7 303.3L633.7 304.1L633.8 304.2L636.0 303.3L636.0 304.9L636.1 305.0L636.1 306.3L638.3 305.3L638.4 305.3L640.6 305.4L640.6 305.9L640.7 305.8L642.9 306.6L642.9 307.9L643.0 308.1L645.2 309.3L645.2 309.4L645.3 309.3L647.5 307.9L647.6 310.0L647.6 310.9L649.8 308.8L649.9 309.4L652.1 309.9L652.1 310.3L652.2 311.5L654.4 311.1L654.4 312.8L654.5 311.3L654.5 312.8L656.7 312.6L656.8 312.5L656.8 315.0L659.0 314.4L659.1 315.3L659.1 314.6L661.3 316.0L661.4 316.2L661.4 315.8L663.6 314.5L663.7 317.6L663.7 317.7L665.9 317.5L665.9 317.9L666.0 318.0L666.0 318.3L668.2 317.0" fill="none" stroke="#ff0000" stroke-width="1.6" stroke-linejoin="miter"/>
<path d="M72.5 287.9L72.5 288.7L72.5 287.2L72.6 292.7L72.6 288.4L72.6 292.1L74.8 291.4L74.8 293.8L74.8 294.7L74.9 297.4L74.9 295.7L77.1 299.2L77.1 301.8L77.2 300.5L77.2 302.3L79.4 303.1L79.4 301.7L79.5 303.3L81.7 304.8L81.7 306.0L81.8 309.5L81.8 309.4L84.0 306.3L84.1 307.0L84.1 306.3L86.3 304.4L86.3 311.5L86.4 310.5L88.6 306.4L88.6 310.4L88.7 315.2L88.7 311.9L90.9 312.3L91.0 312.1L93.2 310.6L93.2 310.0L93.3 311.0L95.5 313.1L95.5 312.6L95.6 314.7L97.8 316.9L97.8 314.7L97.9 315.3L100.1 312.9L100.1 311.0L100.2 317.7L102.4 314.7L102.4 315.4L102.5 312.0L104.7 309.1L104.7 314.6L104.8 307.6L107.0 311.2L107.0 310.0L107.1 311.1L109.3 311.8L109.3 311.5L109.4 305.6L109.4 311.1L111.6 305.0L111.7 309.4L111.7 306.9L113.9 304.9L114.0 305.4L114.0 303.5L116.2 305.6L116.3 306.8L116.3 306.3L118.5 304.5L118.5 305.9L118.6 304.2L120.8 307.0L120.8 303.6L120.9 301.0L120.9 301.1L123.1 299.9L123.1 300.4L123.2 300.4L125.4 301.5L125.4 301.3L125.5 299.4L125.5 299.9L127.7 297.3L127.7 297.3L127.8 293.3L130.0 296.3L130.0 296.5L130.1 302.2L132.3 294.2L132.3 296.9L132.4 295.9L132.4 293.3L134.6 296.7L134.6 296.0L134.7 292.9L136.9 291.0L136.9 295.3L137.0 292.4L139.2 296.3L139.2 294.2L139.3 295.6L141.5 293.8L141.5 297.3L141.6 295.5L141.6 297.0L143.8 294.0L143.9 291.5L146.1 290.6L146.1 292.2L146.2 293.7L148.4 291.8L148.4 297.8L148.5 292.6L150.7 293.5L150.8 292.6L150.8 289.8L153.0 294.3L153.1 293.4L153.1 293.8L155.3 290.1L155.4 291.8L155.4 291.7L157.6 294.0L157.7 288.7L159.9 292.8L160.0 293.9L160.0 290.4L162.2 289.6L162.3 293.8L164.5 291.6L164.5 293.3L164.6 292.5L166.8 293.0L166.9 290.4L166.9 286.4L169.1 291.8L169.2 289.1L171.4 291.7L171.5 289.3L171.5 293.7L173.7 289.8L173.8 292.0L176.0 292.6L176.0 290.2L176.1 291.0L178.3 290.4L178.4 288.7L180.6 293.6L180.7 289.0L180.7 287.8L182.9 290.1L183.0 291.5L185.2 291.6L185.2 291.0L185.3 291.0L187.5 287.8L187.5 293.4L187.6 295.9L189.8 291.2L189.8 289.3L189.9 294.6L192.1 293.1L192.2 285.9L194.4 292.6L194.4 291.5L194.5 292.3L194.5 298.8L196.7 297.1L196.7 295.1L196.8 295.8L199.0 299.3L199.1 294.4L201.3 298.4L201.3 296.2L201.4 299.4L203.6 298.4L203.6 297.0L203.7 300.7L203.7 300.1L205.9 303.1L206.0 299.1L208.2 300.7L208.2 299.3L208.3 303.5L208.3 300.0L210.5 301.9L210.6 304.8L210.6 303.6L210.6 303.5L212.8 303.7L212.9 304.4L212.9 305.5L215.1 304.0L215.1 301.3L215.2 308.0L217.4 304.0L217.4 309.8L217.5 307.3L217.5 313.4L219.7 310.0L219.8 308.9L219.8 310.3L222.0 306.0L222.1 309.5L224.3 308.6L224.3 309.7L224.4 305.9L226.6 306.0L226.7 312.1L226.7 311.2L228.9 310.8L229.0 311.7L229.0 311.1L231.2 311.8L231.3 314.6L231.3 313.1L233.5 315.3L233.5 312.9L233.6 311.3L233.6 313.9L235.8 315.3L235.9 314.0L235.9 315.8L238.1 316.1L238.2 319.3L238.2 319.7L240.4 320.7L240.5 317.9L242.7 320.6L242.7 322.8L242.8 321.2L242.8 321.3L245.0 320.6L245.1 324.0L245.1 323.0L247.3 324.9L247.3 322.9L247.4 327.5L249.6 323.5L249.6 321.1L249.7 324.2L251.9 324.9L252.0 326.7L252.0 323.2L254.2 323.1L254.2 323.7L254.3 323.6L256.5 320.1L256.5 325.9L256.6 327.1L258.8 323.0L258.9 322.5L258.9 324.3L261.1 322.9L261.2 326.2L263.4 323.3L263.4 325.9L263.5 322.0L265.7 321.7L265.8 321.4L265.8 321.6L268.0 325.5L268.0 326.3L268.1 324.9L270.3 325.0L270.4 320.0L272.6 326.5L272.6 321.6L272.7 326.3L272.7 328.3L274.9 323.3L275.0 323.9L277.2 323.4L277.2 319.2L277.3 319.0L279.5 319.4L279.6 320.3L279.6 321.0L281.8 318.9L281.8 319.8L281.9 316.1L281.9 313.5L284.1 315.2L284.1 314.5L284.2 311.6L284.2 315.3L284.2 311.3L286.4 310.7L286.5 311.7L286.5 308.5L288.7 310.6L288.7 309.3L288.8 308.4L291.0 306.8L291.0 305.1L291.1 303.5L291.1 304.6L293.3 305.5L293.3 303.3L293.4 302.0L293.4 302.5L295.6 302.2L295.6 296.7L295.7 297.8L295.7 299.3L295.7 294.9L297.9 294.3L297.9 295.3L298.0 293.3L298.0 294.9L300.2 291.1L300.2 291.7L300.2 291.9L300.3 289.5L300.3 286.7L302.5 285.9L302.5 285.4L302.6 285.4L302.6 283.0L304.8 284.0L304.8 284.0L304.8 283.1L304.9 280.0L304.9 279.3L307.1 278.4L307.1 277.1L307.2 278.1L307.2 275.3L307.2 274.1L309.4 274.1L309.4 273.0L309.4 273.3L309.5 272.0L309.5 269.0L309.5 266.6L311.7 267.3L311.7 266.7L311.8 265.9L311.8 261.9L311.8 261.3L311.8 262.7L314.0 261.7L314.0 260.3L314.0 258.1L314.1 258.0L314.1 255.8L314.1 254.3L316.3 254.6L316.3 253.3L316.3 253.2L316.4 252.3L316.4 249.1L316.4 249.7L318.6 248.9L318.6 246.3L318.7 245.9L318.7 245.3L318.7 244.4L320.9 241.9L320.9 240.7L321.0 239.1L321.0 239.0L321.0 237.0L323.2 236.1L323.2 235.7L323.3 234.1L323.3 231.9L323.3 233.4L325.5 232.6L325.5 231.3L325.6 229.2L325.6 230.5L327.8 228.4L327.8 226.9L327.9 229.2L330.1 231.5L330.1 230.0L330.2 231.4L330.2 232.6L332.4 232.2L332.4 232.4L332.5 233.7L332.5 234.7L332.5 234.5L334.7 236.2L334.7 237.2L334.8 236.8L334.8 238.6L334.8 239.0L337.0 238.6L337.0 239.7L337.1 240.5L337.1 240.7L337.1 241.1L339.3 241.4L339.4 243.5L339.4 245.1L341.6 246.0L341.6 245.4L341.7 247.5L341.7 248.4L343.9 247.5L343.9 249.7L344.0 249.9L344.0 250.3L346.2 251.6L346.2 251.5L346.3 250.0L346.3 252.8L348.5 252.0L348.5 253.7L348.6 255.2L350.8 254.5L350.8 254.7L350.9 255.5L350.9 255.9L353.1 254.1L353.2 254.0L353.2 254.7L355.4 255.3L355.4 253.0L355.5 252.8L355.5 250.7L357.7 250.4L357.7 249.3L357.7 246.5L357.8 246.0L357.8 244.7L360.0 241.4L360.0 242.9L360.1 242.0L360.1 241.0L360.1 240.0L362.3 236.4L362.3 233.7L362.3 231.7L362.3 230.2L362.3 228.7L362.3 227.4L362.3 225.1L362.3 224.4L362.3 224.6L362.4 221.9L362.4 219.7L362.4 219.5L362.4 218.4L364.6 216.7L364.6 214.3L364.6 214.6L364.7 213.4L364.7 213.3L364.7 210.4L364.7 208.2L366.9 206.9L366.9 205.5L366.9 202.3L366.9 199.6L366.9 198.8L366.9 195.9L367.0 193.4L367.0 191.3L367.0 190.7L367.0 188.1L367.0 187.3L367.0 185.4L367.0 184.8L367.0 183.8L367.0 180.4L369.2 180.1L369.2 177.8L369.2 176.9L369.2 174.3L369.3 172.7L369.3 172.5L369.3 171.0L369.3 168.8L369.3 167.0L371.5 167.0L371.5 164.3L371.5 162.7L371.6 161.0L371.6 159.9L371.6 159.0L371.6 157.7L373.8 156.1L373.8 154.4L373.8 154.7L373.8 153.1L373.9 150.0L373.9 148.4L373.9 147.9L376.1 145.5L376.1 146.3L376.1 146.8L376.2 147.5L376.2 151.0L376.2 152.3L378.4 153.6L378.4 155.0L378.4 156.9L378.4 159.0L378.4 159.3L378.5 161.1L378.5 162.6L378.5 162.7L378.5 164.1L380.7 167.0L380.7 166.9L380.7 169.7L380.7 170.0L380.7 172.1L380.7 173.6L380.7 175.0L380.7 175.1L380.8 177.9L380.8 178.8L380.8 181.1L380.8 183.9L380.8 185.1L380.8 187.6L380.8 189.2L380.8 192.0L380.8 194.0L380.8 195.3L380.8 197.7L380.8 200.3L380.8 202.9L380.8 203.8L380.8 206.3L380.8 208.0L380.8 208.4L383.0 209.3L383.0 211.7L383.0 212.0L383.0 213.7L383.0 216.0L383.1 217.9L383.1 219.8L383.1 222.2L383.1 225.4L383.1 227.6L383.1 229.3L383.1 231.7L383.1 233.5L383.1 235.7L383.1 237.8L383.1 238.9L383.1 240.4L385.3 242.9L385.3 243.7L385.3 246.1L385.3 247.8L385.3 249.1L385.3 251.6L385.3 252.0L385.4 254.5L385.4 254.6L385.4 255.8L385.4 258.6L385.4 259.8L387.6 262.1L387.6 263.5L387.6 264.5L387.6 266.5L387.6 268.5L387.6 270.3L387.7 271.1L387.7 273.3L387.7 274.9L387.7 275.6L387.7 279.5L387.7 278.9L389.9 281.9L389.9 282.7L389.9 284.6L389.9 286.2L389.9 286.8L389.9 289.4L390.0 291.4L390.0 292.6L390.0 294.5L390.0 296.6L390.0 297.4L390.0 300.4L392.2 302.2L392.2 303.9L392.2 304.4L392.2 305.5L392.2 306.7L392.3 308.9L392.3 309.8L392.3 310.8L392.3 311.6L394.5 311.4L394.5 312.9L394.6 314.0L394.6 316.1L396.8 315.9L396.8 316.7L396.8 318.5L396.9 318.7L396.9 319.6L399.1 322.6L399.1 321.2L399.1 320.9L399.2 324.3L399.2 325.4L401.4 326.3L401.4 323.7L401.4 327.9L401.5 327.1L401.5 327.8L401.5 328.6L403.7 330.1L403.7 330.7L403.8 333.2L406.0 331.5L406.0 331.2L406.1 332.7L406.1 331.5L408.3 333.8L408.3 332.2L408.4 333.5L410.6 331.3L410.7 334.3L412.9 333.7L412.9 330.9L413.0 331.9L415.2 332.8L415.2 330.1L415.3 330.5L417.5 333.5L417.5 333.5L417.6 335.1L419.8 330.0L419.8 331.7L419.9 328.4L422.1 335.5L422.1 329.6L422.2 331.5L424.4 335.6L424.5 334.5L424.5 330.0L426.7 335.8L426.8 332.2L429.0 329.2L429.0 331.3L429.1 331.7L431.3 331.4L431.3 325.9L431.4 332.9L433.6 326.2L433.6 328.5L433.7 331.0L433.7 328.8L435.9 327.7L435.9 326.3L436.0 327.9L436.0 328.9L438.2 325.0L438.3 326.3L438.3 324.4L440.5 323.9L440.5 320.5L440.6 323.9L440.6 324.7L442.8 322.1L442.8 323.8L442.9 321.8L445.1 322.8L445.1 320.5L445.1 319.1L445.2 318.4L445.2 318.7L447.4 318.6L447.4 316.3L447.5 316.9L447.5 314.4L449.7 313.9L449.7 317.0L449.8 316.0L452.0 316.6L452.0 314.8L452.1 314.8L454.3 317.2L454.3 312.0L454.4 313.8L454.4 315.8L456.6 316.4L456.6 313.5L456.7 311.9L458.9 309.9L458.9 311.1L459.0 311.4L461.2 310.7L461.3 311.3L461.3 311.2L463.5 308.9L463.6 307.9L463.6 308.8L465.8 309.9L465.8 311.9L465.9 305.6L468.1 310.3L468.1 307.5L468.2 309.8L470.4 310.9L470.4 308.1L470.5 305.0L472.7 305.9L472.7 307.0L472.8 305.6L472.8 305.8L475.0 304.2L475.1 304.7L477.3 303.7L477.3 306.1L477.4 304.8L477.4 305.4L479.6 300.7L479.7 302.6L479.7 301.8L481.9 302.0L482.0 300.9L482.0 301.0L484.2 304.8L484.2 301.2L484.3 299.0L484.3 300.6L486.5 304.9L486.6 301.9L486.6 298.5L488.8 299.5L488.9 299.5L488.9 299.4L491.1 295.7L491.2 297.1L491.2 298.2L493.4 295.1L493.5 297.6L495.7 297.8L495.7 298.9L495.8 299.2L498.0 296.7L498.0 297.2L498.1 297.9L498.1 298.3L500.3 296.3L500.4 294.5L502.6 296.8L502.6 297.1L502.7 295.7L502.7 296.3L504.9 298.1L504.9 294.0L505.0 293.4L507.2 292.5L507.2 295.0L507.3 295.8L509.5 292.9L509.6 297.0L511.8 292.4L511.9 293.7L511.9 292.9L514.1 295.5L514.2 291.6L516.4 295.8L516.5 292.2L516.5 289.9L518.7 291.3L518.8 291.9L518.8 295.3L521.0 291.1L521.1 292.0L523.3 295.9L523.3 292.2L523.4 290.6L525.6 290.4L525.6 288.8L525.7 292.4L527.9 294.0L528.0 290.9L528.0 289.6L530.2 292.1L530.3 291.6L532.5 291.2L532.6 292.3L532.6 291.5L534.8 290.7L534.9 293.3L537.1 287.8L537.2 289.2L537.2 290.8L539.4 288.7L539.5 294.1L541.7 287.1L541.8 292.6L541.8 292.3L544.0 291.8L544.1 291.9L544.1 290.0L546.3 289.7L546.4 293.7L548.6 290.7L548.7 288.2L548.7 288.6L550.9 287.9L551.0 291.2L553.2 292.8L553.2 290.0L553.3 290.7L555.5 289.4L555.6 291.9L555.6 291.8L557.8 291.8L557.9 293.3L557.9 287.5L560.1 291.2L560.2 286.7L562.4 290.8L562.5 290.8L562.5 290.6L564.7 290.6L564.8 288.7L567.0 287.7L567.1 290.2L569.3 287.5L569.3 290.0L569.4 287.0L571.6 289.2L571.7 289.2L571.7 287.0L573.9 288.1L574.0 290.5L576.2 288.9L576.2 289.9L576.3 288.0L578.5 289.4L578.5 286.6L578.6 288.1L580.8 292.0L580.9 290.9L580.9 290.1L583.1 290.5L583.1 287.9L583.2 291.4L585.4 288.6L585.5 289.8L585.5 292.6L587.7 290.1L587.7 290.8L587.8 291.9L590.0 292.4L590.1 294.8L590.1 289.6L592.3 292.1L592.3 294.2L592.4 292.5L592.4 292.9L594.6 292.5L594.7 293.7L594.7 295.7L594.7 297.0L596.9 295.8L597.0 298.0L599.2 296.2L599.2 293.3L599.3 297.9L599.3 293.1L601.5 296.8L601.5 297.1L601.6 295.3L601.6 297.2L603.8 296.8L603.9 298.2L603.9 297.6L606.1 299.5L606.2 298.0L608.4 300.0L608.4 299.0L608.4 299.6L608.5 299.5L608.5 298.6L610.7 301.6L610.8 300.9L613.0 296.0L613.0 298.1L613.1 303.7L613.1 300.3L615.3 306.1L615.4 302.0L615.4 302.2L617.6 300.8L617.7 301.5L617.7 302.4L619.9 304.0L620.0 302.8L620.0 302.7L622.2 301.2L622.2 302.4L622.3 302.7L624.5 303.5L624.5 302.7L624.6 302.3L626.8 304.0L626.8 300.3L626.9 302.2L626.9 303.7L629.1 306.2L629.2 304.4L629.2 304.0L631.4 307.4L631.4 306.2L631.5 309.0L631.5 306.4L633.7 305.8L633.8 306.8L633.8 310.8L636.0 310.7L636.1 308.5L636.1 310.4L638.3 306.3L638.3 311.2L638.4 310.0L640.6 309.5L640.7 309.9L640.7 310.5L642.9 309.4L642.9 309.8L643.0 308.5L645.2 313.9L645.3 309.7L645.3 311.4L647.5 313.8L647.6 314.3L649.8 315.0L649.8 311.6L649.9 312.0L649.9 312.9L652.1 310.0L652.2 315.0L654.4 310.8L654.4 313.8L654.5 316.0L656.7 316.0L656.7 313.9L656.8 316.5L656.8 316.9L659.0 312.2L659.1 314.9L659.1 316.9L661.3 316.7L661.4 315.7L663.6 316.2L663.7 320.9L663.7 316.3L665.9 319.0L665.9 315.1L666.0 318.5L668.2 319.4L668.3 316.8" fill="none" stroke="#1a7a55" stroke-width="1.6" stroke-linejoin="miter"/>
<path d="M72.5 302.7L72.5 304.3L72.5 306.6L72.6 308.1L72.6 308.9L72.6 310.2L74.8 309.6L74.8 311.5L74.8 311.5L74.9 312.4L74.9 310.6L77.1 314.8L77.1 312.1L77.2 313.2L79.4 316.2L79.4 315.5L79.5 318.7L81.7 317.2L81.7 316.2L81.8 318.1L81.8 317.7L84.0 320.5L84.0 320.9L84.1 320.4L84.1 319.3L86.3 320.3L86.4 322.0L86.4 320.0L88.6 320.5L88.7 322.9L88.7 322.9L90.9 321.8L91.0 321.8L91.0 319.8L93.2 323.9L93.3 322.3L93.3 320.7L95.5 321.2L95.6 321.5L95.6 324.9L97.8 323.7L97.9 321.1L100.1 325.2L100.1 324.5L100.2 321.3L102.4 319.1L102.4 323.5L102.5 321.4L104.7 321.8L104.7 321.2L104.8 323.2L104.8 323.4L107.0 322.2L107.1 320.8L109.3 321.0L109.3 321.2L109.4 318.1L111.6 321.4L111.6 319.2L111.7 319.6L113.9 319.2L114.0 319.9L114.0 320.0L116.2 321.3L116.3 317.9L116.3 317.1L118.5 318.3L118.6 317.1L118.6 319.0L120.8 316.7L120.9 317.9L120.9 318.8L123.1 318.8L123.2 317.6L125.4 319.0L125.4 318.7L125.5 314.8L127.7 317.1L127.8 316.7L130.0 315.9L130.0 315.3L130.1 315.9L132.3 316.1L132.4 315.8L132.4 317.0L134.6 316.4L134.7 314.2L136.9 313.9L136.9 315.8L137.0 313.8L137.0 314.8L139.2 315.1L139.3 315.8L141.5 315.0L141.6 316.1L143.8 313.6L143.8 315.0L143.9 313.2L146.1 314.3L146.1 314.1L146.2 312.7L148.4 310.5L148.5 315.0L148.5 314.2L150.7 313.9L150.7 312.7L150.8 313.2L153.0 314.1L153.0 313.5L153.1 314.9L155.3 313.5L155.4 312.3L155.4 314.1L155.4 312.4L157.6 313.5L157.7 310.8L159.9 312.5L159.9 313.6L160.0 311.9L162.2 312.6L162.3 313.3L164.5 312.4L164.5 314.6L164.6 311.8L166.8 311.8L166.8 311.8L166.9 309.4L169.1 309.9L169.2 312.5L171.4 311.4L171.4 313.6L171.5 311.8L171.5 311.6L173.7 313.2L173.7 312.3L173.8 314.0L173.8 310.6L176.0 312.6L176.1 313.0L178.3 312.8L178.3 313.7L178.4 313.6L180.6 312.4L180.7 311.7L182.9 313.7L182.9 312.6L183.0 313.9L185.2 314.5L185.3 313.1L185.3 311.8L187.5 312.8L187.6 314.3L189.8 313.1L189.8 315.1L189.9 313.7L192.1 313.9L192.1 313.0L192.1 313.8L192.2 315.4L194.4 313.6L194.5 313.7L194.5 313.1L196.7 315.2L196.8 312.2L199.0 313.4L199.0 315.5L199.1 316.1L201.3 314.1L201.4 315.6L201.4 311.9L203.6 315.4L203.7 314.9L205.9 313.0L205.9 312.3L206.0 314.1L208.2 315.2L208.3 315.5L208.3 315.3L210.5 316.3L210.6 316.3L210.6 313.8L212.8 315.1L212.8 315.1L212.9 317.3L212.9 315.5L215.1 317.6L215.2 316.6L215.2 319.6L217.4 316.7L217.4 317.0L217.5 317.2L219.7 317.8L219.7 320.9L219.8 317.6L219.8 317.5L222.0 318.8L222.1 320.2L222.1 318.6L224.3 321.1L224.3 321.3L224.4 320.5L224.4 320.6L226.6 320.4L226.7 321.3L226.7 320.9L228.9 323.6L228.9 324.2L228.9 322.1L229.0 322.7L231.2 320.7L231.3 322.8L233.5 324.2L233.5 324.3L233.6 324.4L235.8 325.7L235.8 324.9L235.9 324.7L235.9 327.4L238.1 323.3L238.2 324.4L240.4 325.3L240.4 325.5L240.5 325.7L240.5 326.7L242.7 326.5L242.8 327.6L242.8 328.6L245.0 328.3L245.1 328.6L247.3 327.6L247.3 327.5L247.4 328.7L249.6 330.4L249.6 329.8L249.7 330.7L249.7 330.6L251.9 330.8L251.9 328.3L252.0 330.9L254.2 330.3L254.2 332.0L254.3 330.1L256.5 329.7L256.5 329.1L256.6 329.5L258.8 327.2L258.8 329.0L258.9 329.3L261.1 330.6L261.1 328.5L261.2 329.5L263.4 331.6L263.5 328.5L263.5 330.2L265.7 328.4L265.8 328.7L268.0 329.2L268.0 329.6L268.1 327.7L268.1 326.9L270.3 329.9L270.4 328.0L272.6 328.5L272.6 328.5L272.7 328.1L272.7 326.6L274.9 326.6L275.0 324.6L277.2 326.5L277.2 325.4L277.3 325.7L277.3 327.9L279.5 326.2L279.6 325.0L279.6 323.0L281.8 325.2L281.9 325.7L281.9 322.5L284.1 323.5L284.1 322.1L284.2 322.1L286.4 321.2L286.4 319.2L286.5 319.7L286.5 318.0L288.7 320.8L288.8 319.8L288.8 318.1L291.0 317.6L291.0 317.0L291.1 316.5L291.1 316.0L293.3 315.0L293.3 314.3L293.4 312.4L293.4 312.0L295.6 312.1L295.6 312.1L295.7 310.6L297.9 312.4L297.9 309.6L298.0 308.7L298.0 309.1L300.2 309.2L300.2 309.8L300.2 308.3L300.3 306.4L300.3 306.2L302.5 306.0L302.5 305.0L302.6 304.4L302.6 303.4L302.6 303.9L304.8 303.3L304.8 302.1L304.9 300.5L304.9 298.9L307.1 297.9L307.1 298.2L307.1 297.7L307.2 294.7L307.2 295.3L309.4 294.9L309.4 293.9L309.4 292.0L309.5 291.5L309.5 290.2L311.7 288.7L311.7 287.7L311.7 286.5L311.8 284.8L311.8 283.1L311.8 281.6L314.0 280.3L314.0 280.4L314.0 279.7L314.1 277.9L314.1 277.2L314.1 275.6L316.3 274.7L316.3 274.3L316.3 273.1L316.4 271.4L316.4 269.3L316.4 268.5L318.6 267.6L318.6 265.8L318.6 264.4L318.7 262.6L318.7 261.7L318.7 260.5L320.9 259.3L320.9 258.2L320.9 256.4L320.9 255.1L321.0 254.0L321.0 251.7L321.0 250.5L321.0 249.4L323.2 248.9L323.2 248.4L323.2 248.2L323.3 246.9L323.3 247.5L325.5 245.9L325.5 245.7L325.6 245.1L325.6 245.5L327.8 245.7L327.8 245.1L327.9 245.5L330.1 245.7L330.1 247.6L330.2 248.0L330.2 249.0L330.2 250.0L332.4 250.9L332.4 252.5L332.5 254.4L332.5 256.3L332.5 257.0L334.7 258.2L334.7 259.8L334.7 261.7L334.7 262.1L334.8 264.2L334.8 265.9L334.8 268.4L334.8 269.9L337.0 271.0L337.0 271.7L337.0 273.3L337.0 274.4L337.1 276.3L337.1 277.1L337.1 278.7L337.1 278.9L339.3 280.7L339.3 281.3L339.4 282.5L339.4 283.6L339.4 284.4L341.6 284.3L341.6 285.1L341.6 287.0L341.7 287.6L341.7 287.7L343.9 289.1L343.9 290.2L343.9 292.1L344.0 292.6L344.0 293.8L346.2 294.7L346.2 296.2L346.2 294.6L346.3 296.4L346.3 298.0L348.5 297.3L348.5 297.7L348.6 299.3L348.6 300.3L350.8 300.9L350.9 298.9L353.1 299.2L353.1 299.8L353.2 299.4L355.4 299.8L355.4 299.6L355.5 300.6L355.5 299.2L357.7 299.2L357.7 298.9L357.8 299.3L360.0 297.6L360.1 298.3L362.3 297.2L362.3 296.4L362.4 297.6L362.4 296.6L362.4 296.2L364.6 294.9L364.6 294.3L364.6 292.9L364.7 292.3L364.7 290.9L366.9 291.4L366.9 289.0L367.0 289.0L367.0 287.2L367.0 286.4L369.2 284.6L369.2 283.4L369.2 282.7L369.3 280.7L369.3 279.3L369.3 278.3L371.5 276.3L371.5 273.2L371.5 272.8L371.5 270.8L371.5 267.3L371.5 266.5L371.5 265.3L371.6 262.5L371.6 261.1L371.6 259.1L371.6 257.8L371.6 257.1L371.6 255.1L373.8 253.5L373.8 252.9L373.8 251.5L373.8 249.4L373.8 249.2L373.9 247.1L373.9 246.7L373.9 244.6L373.9 242.0L373.9 240.8L376.1 238.4L376.1 237.6L376.1 235.3L376.1 233.2L376.1 232.4L376.1 230.8L376.1 227.8L376.2 227.1L376.2 225.5L376.2 223.6L376.2 222.3L378.4 221.2L378.4 223.1L378.4 223.0L378.5 224.0L378.5 225.6L378.5 227.0L378.5 228.7L380.7 229.1L380.7 230.4L380.7 233.0L380.7 236.0L380.7 237.8L380.8 239.8L380.8 241.6L380.8 243.3L380.8 244.4L380.8 245.3L380.8 247.3L380.8 248.5L383.0 249.7L383.0 251.3L383.0 253.0L383.0 254.2L383.1 255.4L383.1 257.0L383.1 258.0L383.1 259.7L383.1 262.1L383.1 263.7L385.3 266.2L385.3 268.3L385.3 270.3L385.3 272.5L385.3 273.7L385.3 276.0L385.3 278.1L385.3 279.2L385.3 280.6L385.3 282.7L385.3 283.6L385.3 285.1L385.4 287.4L385.4 288.9L385.4 290.4L385.4 292.0L385.4 294.0L385.4 295.9L385.4 297.1L385.4 298.6L387.6 300.4L387.6 302.0L387.6 302.8L387.6 303.2L387.6 305.6L387.6 305.7L387.7 307.4L387.7 308.8L387.7 309.2L387.7 311.4L389.9 313.1L389.9 314.1L389.9 314.0L390.0 315.1L390.0 315.0L392.2 316.5L392.2 317.3L392.3 317.9L394.5 318.7L394.5 318.8L394.6 318.5L394.6 320.8L396.8 321.3L396.8 323.7L396.9 322.9L399.1 322.9L399.1 324.3L399.2 324.5L399.2 324.1L401.4 324.1L401.5 323.2L401.5 325.3L403.7 327.4L403.8 323.0L406.0 324.1L406.1 326.2L406.1 325.5L408.3 325.7L408.3 322.7L408.4 324.2L408.4 325.5L410.6 325.5L410.7 324.9L412.9 323.3L412.9 325.0L413.0 322.7L413.0 323.0L415.2 322.6L415.2 325.8L415.3 323.3L417.5 323.8L417.6 320.7L417.6 324.7L419.8 323.7L419.9 320.9L419.9 320.8L422.1 324.7L422.2 321.3L422.2 324.7L424.4 321.6L424.4 319.0L424.5 323.5L426.7 322.6L426.8 322.9L426.8 321.3L429.0 321.7L429.1 323.2L429.1 320.9L431.3 319.4L431.4 323.2L433.6 321.2L433.6 323.6L433.7 321.4L435.9 321.4L435.9 321.7L436.0 318.9L438.2 323.5L438.2 321.2L438.3 321.7L438.3 323.9L440.5 322.1L440.6 323.0L442.8 322.3L442.9 322.7L442.9 322.0L445.1 323.0L445.2 321.2L447.4 321.9L447.5 320.3L449.7 322.5L449.7 318.2L449.8 321.0L449.8 321.1L452.0 320.9L452.1 320.3L452.1 321.8L454.3 322.6L454.3 319.0L454.4 317.1L456.6 317.9L456.6 318.0L456.7 318.7L458.9 318.5L458.9 319.8L459.0 317.8L461.2 318.3L461.3 318.4L463.5 317.1L463.5 317.8L463.6 321.8L463.6 318.1L465.8 316.9L465.9 315.3L468.1 319.5L468.1 317.7L468.2 317.3L468.2 321.3L470.4 319.9L470.5 315.8L472.7 317.6L472.7 319.3L472.8 319.1L475.0 316.5L475.1 320.2L475.1 320.2L477.3 316.3L477.4 315.4L477.4 315.9L479.6 318.5L479.7 318.9L479.7 317.7L479.7 316.7L481.9 317.3L482.0 318.0L484.2 315.6L484.2 314.9L484.3 316.9L486.5 318.5L486.6 317.1L486.6 317.0L488.8 315.8L488.9 317.8L488.9 314.4L491.1 316.4L491.1 315.7L491.2 316.2L493.4 315.2L493.5 317.3L495.7 316.2L495.7 315.5L495.8 316.9L498.0 316.2L498.1 315.6L498.1 315.5L500.3 317.3L500.4 315.0L500.4 316.0L502.6 315.9L502.7 316.7L504.9 316.0L504.9 319.1L505.0 314.0L507.2 317.0L507.2 316.2L507.3 317.7L509.5 314.1L509.6 317.8L511.8 314.5L511.8 317.1L511.9 316.9L514.1 316.3L514.1 315.3L514.2 315.2L514.2 316.4L516.4 315.3L516.5 313.7L518.7 313.9L518.7 317.3L518.8 317.3L521.0 316.9L521.1 316.3L521.1 316.8L523.3 316.9L523.3 316.6L523.4 315.2L525.6 315.3L525.6 314.8L525.7 316.5L527.9 315.0L528.0 316.1L530.2 318.0L530.2 315.8L530.3 317.5L532.5 318.3L532.5 313.9L532.6 314.4L532.6 316.9L534.8 315.4L534.9 317.0L537.1 317.2L537.2 315.6L539.4 317.4L539.5 318.6L541.7 317.5L541.8 315.1L541.8 316.1L544.0 315.6L544.0 318.3L544.1 316.0L544.1 315.4L546.3 316.4L546.4 317.0L548.6 315.8L548.6 316.4L548.7 316.2L550.9 317.2L551.0 317.4L551.0 316.5L553.2 315.5L553.2 316.6L553.3 314.9L555.5 317.4L555.6 316.4L557.8 316.3L557.9 312.8L557.9 318.9L560.1 317.7L560.2 317.4L562.4 315.9L562.5 316.6L564.7 319.4L564.7 314.8L564.8 316.6L567.0 316.4L567.0 315.8L567.1 316.0L569.3 314.3L569.3 316.4L569.4 313.8L571.6 317.9L571.7 316.5L571.7 314.3L573.9 312.7L574.0 315.5L576.2 316.0L576.2 314.0L576.3 317.4L578.5 315.6L578.6 314.6L580.8 313.4L580.8 315.0L580.9 314.9L583.1 316.0L583.1 316.5L583.2 315.1L585.4 315.7L585.5 316.9L587.7 315.8L587.7 314.6L587.8 315.8L590.0 314.3L590.0 315.5L590.1 314.9L592.3 313.4L592.4 315.6L594.6 314.9L594.6 315.7L594.7 313.0L596.9 316.2L597.0 316.2L599.2 314.2L599.2 314.5L599.3 314.7L599.3 314.6L601.5 315.7L601.6 313.7L603.8 313.1L603.9 314.3L606.1 317.1L606.1 314.1L606.2 313.4L608.4 313.6L608.4 315.1L608.5 316.5L610.7 314.2L610.8 315.5L613.0 315.8L613.1 316.3L613.1 316.0L615.3 317.3L615.3 316.9L615.4 315.3L617.6 319.3L617.6 314.5L617.6 314.7L617.7 317.7L619.9 316.7L619.9 316.2L620.0 316.9L622.2 317.6L622.2 316.2L622.3 316.0L624.5 315.6L624.6 315.9L626.8 316.1L626.8 318.6L626.9 317.6L629.1 318.0L629.1 316.6L629.2 318.7L629.2 315.4L631.4 318.1L631.5 318.4L631.5 316.7L633.7 316.2L633.8 318.2L636.0 316.6L636.0 316.4L636.1 317.5L638.3 316.0L638.4 317.2L638.4 320.0L640.6 316.7L640.6 318.4L640.7 315.8L642.9 317.2L643.0 316.7L643.0 316.7L645.2 317.8L645.3 319.5L647.5 316.5L647.5 318.3L647.6 317.0L649.8 317.4L649.8 315.8L649.9 315.5L652.1 316.1L652.1 315.3L652.2 316.3L654.4 315.0L654.4 316.4L654.5 316.6L656.7 318.8L656.8 318.7L656.8 317.2L659.0 316.0L659.1 317.6L661.3 318.0L661.3 316.8L661.4 316.1L663.6 315.0L663.6 317.3L663.7 319.9L665.9 317.4L665.9 318.3L666.0 318.5L668.2 318.6L668.3 319.0" fill="none" stroke="#00f0f0" stroke-width="1.6" stroke-linejoin="miter"/>
<path d="M72.5 291.4L72.5 291.1L72.5 295.9L72.5 293.6L72.6 296.9L72.6 296.3L74.8 298.8L74.8 302.2L74.8 301.5L74.9 302.4L74.9 304.0L77.1 304.1L77.1 306.3L77.1 302.7L77.2 307.8L79.4 306.8L79.4 306.0L79.5 308.9L79.5 309.3L81.7 309.3L81.7 311.2L81.8 308.5L81.8 308.4L84.0 310.4L84.0 313.5L84.1 313.3L84.1 312.9L86.3 312.2L86.3 313.8L86.4 315.9L86.4 313.6L88.6 314.0L88.7 315.9L88.7 316.6L90.9 316.3L91.0 318.7L91.0 317.0L93.2 315.4L93.3 313.5L95.5 319.4L95.5 317.3L95.6 318.3L97.8 318.7L97.8 320.3L97.9 319.9L100.1 319.8L100.2 318.4L100.2 317.4L102.4 318.0L102.5 315.9L102.5 317.5L104.7 318.4L104.7 317.5L104.8 316.2L107.0 314.1L107.0 313.9L107.1 313.9L109.3 313.9L109.3 315.1L109.4 314.9L109.4 314.6L111.6 315.0L111.6 311.5L111.7 312.3L113.9 313.1L114.0 313.2L114.0 310.5L116.2 310.3L116.2 313.1L116.3 312.0L118.5 311.3L118.6 309.9L120.8 308.6L120.9 309.9L120.9 310.3L123.1 310.4L123.2 310.8L123.2 309.4L125.4 311.1L125.4 308.4L125.5 309.2L127.7 308.5L127.8 305.2L130.0 305.7L130.0 306.8L130.1 307.7L132.3 307.7L132.4 309.0L134.6 306.7L134.6 306.0L134.7 306.9L134.7 304.2L136.9 305.7L137.0 304.2L139.2 305.8L139.3 304.4L139.3 304.8L141.5 308.6L141.6 307.1L141.6 309.3L143.8 305.3L143.9 304.6L146.1 303.5L146.1 304.7L146.2 301.7L146.2 304.7L148.4 303.5L148.5 302.2L148.5 301.3L150.7 302.7L150.8 303.5L150.8 304.1L153.0 301.3L153.1 303.9L155.3 304.4L155.3 307.5L155.4 304.3L157.6 305.1L157.7 302.3L157.7 303.3L159.9 301.9L160.0 301.6L162.2 303.6L162.2 302.3L162.3 304.9L164.5 302.2L164.6 302.7L166.8 299.8L166.8 300.0L166.9 302.6L166.9 300.2L169.1 303.3L169.2 299.7L171.4 299.5L171.4 304.3L171.5 298.2L173.7 300.2L173.8 302.0L173.8 302.2L176.0 299.4L176.1 305.0L178.3 300.7L178.3 298.3L178.4 303.2L180.6 301.0L180.7 302.0L182.9 303.3L182.9 300.6L183.0 301.0L185.2 302.1L185.2 303.8L185.3 300.3L185.3 305.0L187.5 303.3L187.5 301.0L187.6 303.0L189.8 304.1L189.8 305.3L189.9 304.8L192.1 305.4L192.2 303.5L192.2 305.1L194.4 299.7L194.5 306.0L196.7 304.5L196.7 307.4L196.8 304.2L199.0 304.6L199.0 305.6L199.1 307.1L201.3 306.6L201.4 308.1L203.6 306.8L203.6 308.6L203.7 311.7L205.9 309.5L205.9 308.7L206.0 305.6L208.2 309.2L208.2 310.2L208.3 308.3L208.3 310.4L210.5 305.3L210.5 307.9L210.6 307.7L212.8 310.4L212.9 308.4L212.9 308.3L215.1 312.5L215.1 307.9L215.2 311.4L215.2 312.5L217.4 310.6L217.5 309.9L217.5 311.3L219.7 311.0L219.7 311.0L219.8 312.8L219.8 312.8L222.0 318.2L222.1 315.9L222.1 314.7L224.3 315.8L224.4 317.9L224.4 317.4L226.6 316.1L226.6 315.1L226.7 319.7L228.9 317.2L228.9 318.0L229.0 320.0L229.0 318.5L231.2 320.6L231.3 318.6L231.3 319.6L233.5 319.4L233.6 323.6L235.8 318.4L235.8 320.8L235.9 319.9L235.9 320.5L238.1 320.0L238.2 321.0L240.4 324.6L240.4 325.2L240.5 322.1L240.5 321.4L240.5 322.8L242.7 326.5L242.8 324.0L242.8 320.9L245.0 326.2L245.1 324.8L245.1 326.2L247.3 326.1L247.4 323.4L249.6 327.4L249.6 326.9L249.7 324.6L249.7 321.9L251.9 323.8L252.0 323.8L252.0 326.8L254.2 324.6L254.3 324.8L254.3 325.5L256.5 324.5L256.6 325.8L258.8 325.6L258.8 326.5L258.9 322.8L261.1 325.3L261.2 324.2L263.4 328.0L263.5 326.8L263.5 323.6L265.7 325.8L265.7 321.2L265.8 322.3L268.0 323.5L268.0 324.3L268.1 321.9L270.3 323.6L270.4 325.6L270.4 320.7L272.6 321.0L272.6 319.9L272.7 324.7L274.9 320.8L275.0 321.6L277.2 320.3L277.2 321.3L277.3 320.6L277.3 321.1L279.5 320.7L279.5 322.4L279.6 317.9L279.6 319.4L281.8 318.4L281.9 316.5L281.9 319.0L284.1 319.9L284.1 315.0L284.2 320.2L284.2 315.7L286.4 315.2L286.4 310.9L286.5 314.5L288.7 313.5L288.7 312.9L288.8 313.7L288.8 311.9L288.8 312.4L291.0 310.1L291.1 308.7L291.1 310.0L293.3 310.1L293.3 309.7L293.4 308.1L293.4 306.4L293.4 307.2L295.6 306.3L295.6 304.4L295.7 306.0L295.7 304.7L297.9 302.5L297.9 303.0L298.0 303.5L298.0 304.0L300.2 298.7L300.2 300.3L300.3 300.5L300.3 300.0L302.5 298.4L302.5 296.7L302.6 296.3L302.6 296.1L302.6 294.8L304.8 293.5L304.8 292.4L304.9 294.4L304.9 291.5L307.1 290.2L307.1 290.3L307.2 289.0L309.4 287.7L309.4 287.0L309.4 285.8L309.5 285.4L309.5 285.7L311.7 284.6L311.7 282.6L311.8 283.5L311.8 281.0L314.0 279.3L314.0 280.3L314.0 279.6L314.1 278.6L314.1 276.7L314.1 277.4L316.3 275.7L316.3 274.7L316.4 273.7L316.4 273.3L318.6 273.9L318.6 271.1L318.7 271.3L318.7 271.6L320.9 270.7L320.9 269.0L321.0 268.9L323.2 268.2L323.2 266.7L323.3 267.3L325.5 267.8L325.5 266.8L325.6 267.0L327.8 265.9L327.9 264.4L327.9 265.2L330.1 262.9L330.2 265.6L330.2 264.3L332.4 266.3L332.5 264.4L332.5 265.3L332.5 266.1L334.7 267.1L334.8 266.7L334.8 267.8L337.0 269.7L337.0 269.7L337.1 271.8L337.1 272.9L337.1 271.0L339.3 272.4L339.3 275.1L339.4 275.6L341.6 274.8L341.6 276.9L341.7 278.8L341.7 276.5L343.9 279.1L343.9 280.0L343.9 278.9L344.0 279.0L344.0 280.3L346.2 278.0L346.2 279.9L346.3 280.4L346.3 279.1L348.5 277.3L348.6 279.8L348.6 278.0L350.8 278.2L350.9 276.7L350.9 277.2L353.1 277.9L353.1 275.2L353.2 274.7L355.4 273.5L355.5 275.1L355.5 274.5L357.7 273.0L357.7 273.5L357.8 272.9L360.0 273.7L360.0 270.4L360.0 271.0L360.1 269.1L360.1 269.5L362.3 267.0L362.3 265.1L362.4 265.3L362.4 264.1L362.4 262.0L364.6 262.2L364.6 260.7L364.6 258.5L364.7 257.7L364.7 257.6L364.7 256.4L366.9 254.1L366.9 252.7L366.9 252.2L367.0 250.6L367.0 248.7L369.2 249.1L369.2 246.9L369.2 247.8L369.3 246.3L369.3 245.3L371.5 243.4L371.5 242.9L371.6 241.1L371.6 240.5L373.8 239.1L373.9 240.9L373.9 241.5L376.1 244.3L376.1 244.6L376.1 245.0L376.1 247.3L376.2 247.9L376.2 247.8L376.2 249.4L378.4 250.1L378.4 251.4L378.4 252.9L378.5 254.9L378.5 256.6L378.5 258.5L380.7 260.3L380.7 261.3L380.7 263.3L380.7 264.5L380.8 266.8L380.8 268.4L380.8 269.6L380.8 272.4L380.8 274.2L383.0 275.6L383.0 277.2L383.0 279.0L383.0 280.3L383.0 282.3L383.1 282.5L383.1 284.8L383.1 285.7L383.1 287.8L385.3 289.3L385.3 290.2L385.3 292.5L385.3 293.5L385.4 294.9L385.4 295.8L385.4 298.0L387.6 299.4L387.6 300.6L387.6 301.2L387.7 301.5L387.7 305.1L387.7 306.3L389.9 305.4L389.9 308.3L390.0 309.8L390.0 310.4L390.0 311.3L392.2 311.4L392.2 312.0L392.2 314.4L392.3 313.9L392.3 315.7L394.5 315.3L394.5 316.8L394.6 317.3L394.6 318.8L396.8 316.6L396.8 322.5L396.9 320.4L399.1 320.2L399.1 321.7L399.2 319.6L399.2 324.8L401.4 323.2L401.4 325.0L401.4 325.2L401.5 322.8L403.7 325.4L403.7 328.2L403.8 324.8L406.0 326.5L406.1 327.8L408.3 328.8L408.3 324.7L408.4 327.9L410.6 327.3L410.7 327.0L412.9 327.8L412.9 327.4L413.0 324.5L415.2 327.0L415.2 325.1L415.3 326.7L417.5 325.3L417.5 328.4L417.6 327.4L419.8 326.5L419.8 324.3L419.9 325.9L422.1 323.2L422.1 323.4L422.2 321.8L422.2 325.7L424.4 323.3L424.5 325.4L424.5 325.5L426.7 325.1L426.8 322.6L426.8 325.5L429.0 324.9L429.0 320.8L429.1 323.2L431.3 321.0L431.4 321.9L431.4 324.0L433.6 322.3L433.7 324.2L433.7 322.5L435.9 322.5L435.9 323.8L436.0 322.8L438.2 321.9L438.3 322.5L438.3 322.1L440.5 317.8L440.6 318.1L440.6 319.7L442.8 321.1L442.9 317.9L442.9 316.1L445.1 318.5L445.2 317.4L447.4 320.5L447.4 314.0L447.5 319.0L447.5 318.5L449.7 312.8L449.8 315.4L449.8 316.4L449.8 317.3L452.0 316.5L452.0 317.3L452.1 316.3L454.3 314.4L454.3 318.2L454.4 315.6L456.6 313.5L456.6 315.5L456.7 314.3L456.7 313.6L458.9 313.0L458.9 311.4L459.0 312.2L461.2 311.4L461.3 310.0L461.3 313.8L463.5 313.4L463.6 312.3L463.6 310.7L465.8 311.1L465.9 314.9L468.1 310.7L468.1 313.5L468.2 312.5L470.4 312.6L470.4 310.9L470.5 311.2L472.7 311.3L472.7 309.5L472.8 313.4L472.8 309.7L475.0 311.2L475.1 313.7L475.1 313.1L477.3 309.6L477.3 311.3L477.4 311.9L479.6 306.8L479.7 313.3L479.7 310.7L481.9 309.2L481.9 309.4L482.0 305.7L484.2 310.5L484.2 311.7L484.3 308.7L486.5 311.5L486.6 309.8L488.8 306.2L488.8 309.2L488.9 304.8L491.1 304.9L491.2 308.9L493.4 308.6L493.4 307.3L493.5 307.2L495.7 304.7L495.8 308.8L495.8 306.9L498.0 306.5L498.0 312.8L498.1 307.1L500.3 306.4L500.4 309.7L502.6 306.7L502.7 305.3L504.9 308.6L504.9 305.7L505.0 304.5L505.0 305.2L507.2 305.8L507.2 307.2L507.3 307.7L509.5 303.4L509.6 307.5L509.6 304.2L511.8 304.4L511.9 300.7L514.1 307.7L514.1 305.9L514.2 304.4L516.4 304.4L516.4 306.2L516.5 304.4L518.7 299.3L518.7 304.6L518.8 304.0L521.0 304.1L521.0 303.9L521.1 305.0L523.3 302.3L523.3 307.1L523.4 303.4L525.6 301.8L525.7 303.2L527.9 300.1L527.9 302.7L528.0 301.8L530.2 301.3L530.2 304.4L530.3 303.5L530.3 301.4L532.5 302.0L532.6 303.6L532.6 307.0L534.8 302.9L534.8 302.8L534.9 304.0L537.1 301.0L537.2 303.0L539.4 304.4L539.5 303.9L541.7 303.8L541.8 301.2L541.8 303.4L544.0 305.8L544.0 307.9L544.1 305.0L546.3 302.5L546.4 302.7L546.4 303.1L548.6 307.1L548.7 301.2L550.9 303.1L550.9 300.7L551.0 302.8L553.2 303.0L553.3 305.1L553.3 305.0L555.5 304.0L555.5 303.1L555.6 302.9L557.8 306.4L557.9 303.4L557.9 301.7L560.1 302.3L560.1 303.7L560.2 302.2L562.4 300.9L562.5 305.2L562.5 302.4L564.7 303.4L564.7 303.7L564.8 303.1L567.0 303.3L567.1 299.2L569.3 303.6L569.3 303.2L569.4 302.8L569.4 303.4L571.6 307.3L571.7 306.4L571.7 304.8L573.9 306.2L574.0 302.8L574.0 303.5L576.2 304.4L576.3 305.1L578.5 305.0L578.6 306.7L580.8 303.3L580.8 305.9L580.9 302.5L583.1 304.5L583.2 301.9L583.2 305.7L585.4 302.7L585.5 305.9L585.5 300.4L587.7 306.8L587.8 303.7L587.8 304.6L590.0 304.4L590.1 301.2L592.3 303.1L592.3 303.2L592.4 304.2L594.6 301.9L594.7 303.6L594.7 304.9L596.9 306.7L596.9 306.1L597.0 303.0L599.2 306.6L599.2 307.9L599.3 306.6L601.5 304.9L601.6 304.0L601.6 304.9L603.8 308.5L603.9 304.2L606.1 301.7L606.1 307.5L606.2 305.0L606.2 306.0L608.4 305.6L608.5 308.2L608.5 305.8L610.7 305.3L610.8 305.3L613.0 309.7L613.0 309.4L613.1 306.3L615.3 306.3L615.3 307.0L615.4 308.2L615.4 306.0L617.6 310.1L617.6 308.1L617.7 303.4L619.9 306.2L619.9 307.7L620.0 312.3L622.2 311.2L622.2 309.1L622.3 307.1L622.3 309.2L624.5 309.7L624.6 309.2L626.8 310.4L626.8 311.7L626.9 310.0L626.9 309.2L629.1 311.7L629.2 309.2L629.2 311.2L631.4 314.0L631.4 312.8L631.5 310.7L631.5 312.9L633.7 312.7L633.7 313.6L633.8 315.3L636.0 313.1L636.0 312.2L636.1 317.0L636.1 313.2L638.3 316.0L638.4 316.0L640.6 315.0L640.6 316.8L640.7 316.6L642.9 316.7L642.9 317.9L643.0 315.8L643.0 318.7L645.2 316.1L645.2 319.3L645.3 320.0L647.5 316.8L647.5 321.6L647.6 317.6L647.6 318.8L649.8 317.9L649.9 319.1L652.1 320.0L652.1 319.1L652.2 321.9L654.4 319.3L654.4 321.4L654.5 319.3L654.5 319.7L656.7 321.6L656.7 322.1L656.8 321.3L659.0 322.8L659.1 323.3L661.3 321.8L661.3 323.2L661.4 322.0L663.6 321.5L663.6 322.8L663.7 323.7L663.7 326.2L665.9 325.3L665.9 324.8L666.0 321.3L668.2 323.4L668.2 325.7L668.3 325.9" fill="none" stroke="#800080" stroke-width="1.6" stroke-linejoin="miter"/></g>
<rect x="71.4" y="7.6" width="595.6" height="353.29999999999995" fill="none" stroke="#000" stroke-width="1.4"/>
<line x1="65" x2="71.4" y1="360.90" y2="360.90" stroke="#1a1a1a" stroke-width="1.1"/>
<text transform="translate(57.2,366.60) scale(1,1.045)" text-anchor="end" font-family="Liberation Serif" font-size="17" fill="#111">-20</text>
<line x1="65" x2="71.4" y1="328.78" y2="328.78" stroke="#1a1a1a" stroke-width="1.1"/>
<text transform="translate(57.2,334.48) scale(1,1.045)" text-anchor="end" font-family="Liberation Serif" font-size="17" fill="#111">0</text>
<line x1="65" x2="71.4" y1="296.66" y2="296.66" stroke="#1a1a1a" stroke-width="1.1"/>
<text transform="translate(57.2,302.36) scale(1,1.045)" text-anchor="end" font-family="Liberation Serif" font-size="17" fill="#111">20</text>
<line x1="65" x2="71.4" y1="264.55" y2="264.55" stroke="#1a1a1a" stroke-width="1.1"/>
<text transform="translate(57.2,270.25) scale(1,1.045)" text-anchor="end" font-family="Liberation Serif" font-size="17" fill="#111">40</text>
<line x1="65" x2="71.4" y1="232.43" y2="232.43" stroke="#1a1a1a" stroke-width="1.1"/>
<text transform="translate(57.2,238.13) scale(1,1.045)" text-anchor="end" font-family="Liberation Serif" font-size="17" fill="#111">60</text>
<line x1="65" x2="71.4" y1="200.31" y2="200.31" stroke="#1a1a1a" stroke-width="1.1"/>
<text transform="translate(57.2,206.01) scale(1,1.045)" text-anchor="end" font-family="Liberation Serif" font-size="17" fill="#111">80</text>
<line x1="65" x2="71.4" y1="168.19" y2="168.19" stroke="#1a1a1a" stroke-width="1.1"/>
<text transform="translate(57.2,173.89) scale(1,1.045)" text-anchor="end" font-family="Liberation Serif" font-size="17" fill="#111">100</text>
<line x1="65" x2="71.4" y1="136.07" y2="136.07" stroke="#1a1a1a" stroke-width="1.1"/>
<text transform="translate(57.2,141.77) scale(1,1.045)" text-anchor="end" font-family="Liberation Serif" font-size="17" fill="#111">120</text>
<line x1="65" x2="71.4" y1="103.95" y2="103.95" stroke="#1a1a1a" stroke-width="1.1"/>
<text transform="translate(57.2,109.65) scale(1,1.045)" text-anchor="end" font-family="Liberation Serif" font-size="17" fill="#111">140</text>
<line x1="65" x2="71.4" y1="71.84" y2="71.84" stroke="#1a1a1a" stroke-width="1.1"/>
<text transform="translate(57.2,77.54) scale(1,1.045)" text-anchor="end" font-family="Liberation Serif" font-size="17" fill="#111">160</text>
<line x1="65" x2="71.4" y1="39.72" y2="39.72" stroke="#1a1a1a" stroke-width="1.1"/>
<text transform="translate(57.2,45.42) scale(1,1.045)" text-anchor="end" font-family="Liberation Serif" font-size="17" fill="#111">180</text>
<line x1="65" x2="71.4" y1="7.60" y2="7.60" stroke="#1a1a1a" stroke-width="1.1"/>
<text transform="translate(57.2,13.30) scale(1,1.045)" text-anchor="end" font-family="Liberation Serif" font-size="17" fill="#111">200</text>
<line x1="153.29" x2="153.29" y1="360.9" y2="367.2" stroke="#111" stroke-width="1.1"/>
<text transform="translate(153.59,391.0) scale(1,1.045)" text-anchor="middle" font-family="Liberation Serif" font-size="17" fill="#111">500</text>
<line x1="256.03" x2="256.03" y1="360.9" y2="367.2" stroke="#111" stroke-width="1.1"/>
<text transform="translate(256.33,391.0) scale(1,1.045)" text-anchor="middle" font-family="Liberation Serif" font-size="17" fill="#111">1000</text>
<line x1="358.78" x2="358.78" y1="360.9" y2="367.2" stroke="#111" stroke-width="1.1"/>
<text transform="translate(359.08,391.0) scale(1,1.045)" text-anchor="middle" font-family="Liberation Serif" font-size="17" fill="#111">1500</text>
<line x1="461.52" x2="461.52" y1="360.9" y2="367.2" stroke="#111" stroke-width="1.1"/>
<text transform="translate(461.82,391.0) scale(1,1.045)" text-anchor="middle" font-family="Liberation Serif" font-size="17" fill="#111">2000</text>
<line x1="564.26" x2="564.26" y1="360.9" y2="367.2" stroke="#111" stroke-width="1.1"/>
<text transform="translate(564.56,391.0) scale(1,1.045)" text-anchor="middle" font-family="Liberation Serif" font-size="17" fill="#111">2500</text>
<line x1="667.00" x2="667.00" y1="360.9" y2="367.2" stroke="#111" stroke-width="1.1"/>
<text transform="translate(667.30,391.0) scale(1,1.045)" text-anchor="middle" font-family="Liberation Serif" font-size="17" fill="#111">3000</text>
<text x="368.5" y="422.5" text-anchor="middle" font-family="Liberation Serif" font-size="19.8" fill="#111">Raman shift,cm-1</text>
<text transform="translate(16.5,183.3) rotate(-90)" x="0" y="0" text-anchor="middle" font-family="Liberation Serif" font-size="19.8" fill="#111">Intensity/ arbitrary</text>
<rect x="493.2" y="31.8" width="150.2" height="143.0" fill="#fff" stroke="#111" stroke-width="1.5"/>
<line x1="500" x2="543" y1="51.3" y2="51.3" stroke="#000" stroke-width="3"/>
<text x="549.5" y="55.5" font-family="Liberation Serif" font-size="17" fill="#111">RSS KOH</text>
<line x1="500" x2="543" y1="70.4" y2="70.4" stroke="#e060e0" stroke-width="3"/>
<text x="549.5" y="74.5" font-family="Liberation Serif" font-size="17" fill="#111">RSS NaOH</text>
<line x1="500" x2="543" y1="92.0" y2="92.0" stroke="#ee1111" stroke-width="3"/>
<text x="549.5" y="94.1" font-family="Liberation Serif" font-size="17" fill="#111">RSS H<tspan dy="4.5" font-size="12">2</tspan><tspan dy="-4.5">SO</tspan><tspan dy="4.5" font-size="12">4</tspan></text>
<line x1="500" x2="543" y1="113.4" y2="113.4" stroke="#1f7a50" stroke-width="3"/>
<text x="549.5" y="118.0" font-family="Liberation Serif" font-size="17" fill="#111">RS KOII</text>
<line x1="500" x2="543" y1="133.0" y2="133.0" stroke="#55ccee" stroke-width="3"/>
<text x="549.5" y="137.4" font-family="Liberation Serif" font-size="17" fill="#111">RS NAOH</text>
<line x1="500" x2="543" y1="154.8" y2="154.8" stroke="#6a2a9a" stroke-width="3"/>
<text x="549.5" y="157.0" font-family="Liberation Serif" font-size="17" fill="#111">RS H<tspan dy="4.5" font-size="12">2</tspan><tspan dy="-4.5">SO</tspan><tspan dy="4.5" font-size="12">4</tspan></text>
</svg>
</body></html>
